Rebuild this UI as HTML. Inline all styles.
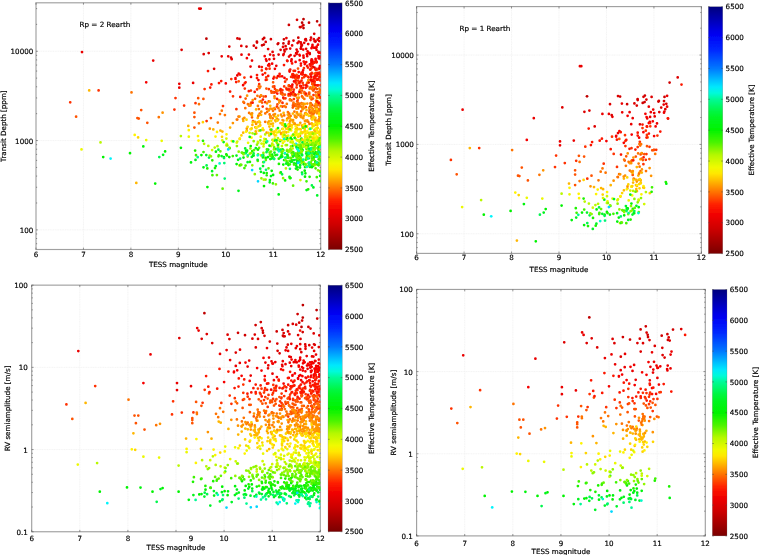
<!DOCTYPE html><html><head><meta charset="utf-8"><title>TESS transit depth and RV semiamplitude</title>
<style>html,body{margin:0;padding:0;background:#fff}svg{display:block}text{stroke:#000;stroke-width:0.18px;font-family:"DejaVu Sans","Liberation Sans",sans-serif;font-size:7.15px;fill:#000}</style></head><body>
<svg width="760" height="555" viewBox="0 0 760 555">
<defs><linearGradient id="jet" x1="0" y1="0" x2="0" y2="1"><stop offset="0.0000" stop-color="#00007d"/><stop offset="0.0250" stop-color="#000098"/><stop offset="0.0500" stop-color="#0000b2"/><stop offset="0.0750" stop-color="#0000cd"/><stop offset="0.1000" stop-color="#0000e8"/><stop offset="0.1250" stop-color="#0008f7"/><stop offset="0.1500" stop-color="#0018fb"/><stop offset="0.1750" stop-color="#0028ff"/><stop offset="0.2000" stop-color="#0043ff"/><stop offset="0.2250" stop-color="#005dff"/><stop offset="0.2500" stop-color="#0078ff"/><stop offset="0.2750" stop-color="#009eff"/><stop offset="0.3000" stop-color="#00c4ff"/><stop offset="0.3250" stop-color="#00e8fc"/><stop offset="0.3500" stop-color="#00fad9"/><stop offset="0.3750" stop-color="#00fa96"/><stop offset="0.4000" stop-color="#00f86b"/><stop offset="0.4250" stop-color="#00f640"/><stop offset="0.4500" stop-color="#00f522"/><stop offset="0.4750" stop-color="#00f411"/><stop offset="0.5000" stop-color="#00f300"/><stop offset="0.5250" stop-color="#26f400"/><stop offset="0.5500" stop-color="#4bf400"/><stop offset="0.5750" stop-color="#80f600"/><stop offset="0.6000" stop-color="#b4f800"/><stop offset="0.6250" stop-color="#d2f900"/><stop offset="0.6500" stop-color="#f0fa00"/><stop offset="0.6750" stop-color="#ffe800"/><stop offset="0.7000" stop-color="#ffc300"/><stop offset="0.7250" stop-color="#ff9b00"/><stop offset="0.7500" stop-color="#ff7300"/><stop offset="0.7750" stop-color="#ff4b00"/><stop offset="0.8000" stop-color="#ff2300"/><stop offset="0.8250" stop-color="#f80c00"/><stop offset="0.8500" stop-color="#ed0000"/><stop offset="0.8750" stop-color="#dd0000"/><stop offset="0.9000" stop-color="#cd0000"/><stop offset="0.9250" stop-color="#b80000"/><stop offset="0.9500" stop-color="#a40000"/><stop offset="0.9750" stop-color="#8f0000"/><stop offset="1.0000" stop-color="#7a0000"/></linearGradient><filter id="soft" x="0" y="0" width="760" height="555" filterUnits="userSpaceOnUse"><feGaussianBlur stdDeviation="0.35"/></filter></defs>
<rect width="760" height="555" fill="#fff"/>
<g filter="url(#soft)">
<g>
<clipPath id="c1"><rect x="36.00" y="2.80" width="284.70" height="246.70"/></clipPath>
<path d="M83.45 2.80V249.50M130.90 2.80V249.50M178.35 2.80V249.50M225.80 2.80V249.50M273.25 2.80V249.50M36.00 229.88H320.70M36.00 140.56H320.70M36.00 51.25H320.70" stroke="#efefef" stroke-width="0.7" stroke-dasharray="1.2 0.5" fill="none"/><rect x="36.00" y="2.80" width="284.70" height="246.70" fill="none" stroke="#a0a0a0" stroke-width="1.15"/><path d="M36.00 249.50v-1.90M36.00 2.80v1.90M83.45 249.50v-1.90M83.45 2.80v1.90M130.90 249.50v-1.90M130.90 2.80v1.90M178.35 249.50v-1.90M178.35 2.80v1.90M225.80 249.50v-1.90M225.80 2.80v1.90M273.25 249.50v-1.90M273.25 2.80v1.90M320.70 249.50v-1.90M320.70 2.80v1.90M36.00 243.71h1.15M320.70 243.71h-1.15M36.00 238.53h1.15M320.70 238.53h-1.15M36.00 233.96h1.15M320.70 233.96h-1.15M36.00 229.88h1.90M320.70 229.88h-1.90M36.00 202.99h1.15M320.70 202.99h-1.15M36.00 187.26h1.15M320.70 187.26h-1.15M36.00 176.10h1.15M320.70 176.10h-1.15M36.00 167.45h1.15M320.70 167.45h-1.15M36.00 160.38h1.15M320.70 160.38h-1.15M36.00 154.40h1.15M320.70 154.40h-1.15M36.00 149.22h1.15M320.70 149.22h-1.15M36.00 144.65h1.15M320.70 144.65h-1.15M36.00 140.56h1.90M320.70 140.56h-1.90M36.00 113.67h1.15M320.70 113.67h-1.15M36.00 97.95h1.15M320.70 97.95h-1.15M36.00 86.79h1.15M320.70 86.79h-1.15M36.00 78.13h1.15M320.70 78.13h-1.15M36.00 71.06h1.15M320.70 71.06h-1.15M36.00 65.08h1.15M320.70 65.08h-1.15M36.00 59.90h1.15M320.70 59.90h-1.15M36.00 55.33h1.15M320.70 55.33h-1.15M36.00 51.25h1.90M320.70 51.25h-1.90M36.00 24.36h1.15M320.70 24.36h-1.15M36.00 8.63h1.15M320.70 8.63h-1.15" stroke="#444" stroke-width="0.55" fill="none"/><text x="36.00" y="256.60" text-anchor="middle">6</text><text x="83.45" y="256.60" text-anchor="middle">7</text><text x="130.90" y="256.60" text-anchor="middle">8</text><text x="178.35" y="256.60" text-anchor="middle">9</text><text x="225.80" y="256.60" text-anchor="middle">10</text><text x="273.25" y="256.60" text-anchor="middle">11</text><text x="320.70" y="256.60" text-anchor="middle">12</text><text x="33.30" y="232.88" text-anchor="end">100</text><text x="33.30" y="143.56" text-anchor="end">1000</text><text x="33.30" y="54.25" text-anchor="end">10000</text><text x="178.35" y="267.10" text-anchor="middle">TESS magnitude</text><text transform="translate(5.60 126.15) rotate(-90)" text-anchor="middle">Transit Depth [ppm]</text><rect x="328.20" y="2.95" width="13.90" height="246.65" fill="url(#jet)" stroke="#777" stroke-width="0.25"/><text x="344.90" y="252.30">2500</text><text x="344.90" y="221.47">3000</text><text x="344.90" y="190.64">3500</text><text x="344.90" y="159.81">4000</text><text x="344.90" y="128.97">4500</text><text x="344.90" y="98.14">5000</text><text x="344.90" y="67.31">5500</text><text x="344.90" y="36.48">6000</text><text x="344.90" y="5.65">6500</text><path d="M342.10 249.60h-1.6M328.20 249.60h1.6M342.10 218.77h-1.6M328.20 218.77h1.6M342.10 187.94h-1.6M328.20 187.94h1.6M342.10 157.11h-1.6M328.20 157.11h1.6M342.10 126.27h-1.6M328.20 126.27h1.6M342.10 95.44h-1.6M328.20 95.44h1.6M342.10 64.61h-1.6M328.20 64.61h1.6M342.10 33.78h-1.6M328.20 33.78h1.6M342.10 2.95h-1.6M328.20 2.95h1.6" stroke="#444" stroke-width="0.5" fill="none"/><text transform="translate(374.00 126.15) rotate(-90)" text-anchor="middle">Effective Temperature [K]</text>
<g clip-path="url(#c1)"><g fill="none" stroke-width="2.75" stroke-linecap="round"><path stroke="#ea0000" d="M82.0 52.1h0M153.2 60.6h0M179.3 83.8h0M179.3 87.7h0M193.1 82.9h0M199.2 8.6h0M200.7 8.6h0M319.2 68.8h0M313.9 47.7h0M283.7 54.0h0M300.8 42.3h0M296.7 54.1h0M248.9 54.6h0M276.3 65.8h0M318.6 58.2h0M306.1 40.4h0M309.7 53.0h0M252.0 60.6h0M269.1 64.2h0M305.2 39.7h0M316.8 68.9h0M316.5 49.8h0M304.2 42.8h0M303.6 57.7h0M268.1 49.1h0M294.6 55.8h0M286.4 38.1h0M274.0 58.8h0M307.2 56.2h0M221.7 56.3h0M292.1 45.4h0M314.6 41.3h0M292.0 93.9h0M297.6 51.5h0M300.9 43.6h0M270.1 54.5h0M266.5 60.8h0M319.0 38.0h0M312.5 44.9h0M306.1 48.8h0M308.2 44.1h0M283.0 46.9h0M287.4 61.0h0M291.6 59.4h0M283.3 55.1h0M250.5 66.6h0M290.6 55.0h0M289.0 56.6h0M241.3 45.9h0M272.6 51.9h0M231.7 59.2h0M290.2 48.5h0M237.3 75.4h0M269.4 59.3h0M228.2 56.3h0M286.4 49.1h0M307.6 51.3h0M297.6 43.1h0M241.5 54.7h0M316.0 48.0h0M290.2 69.5h0M312.7 62.3h0M315.5 41.6h0M312.9 66.9h0M296.1 53.2h0M273.5 55.4h0M313.8 39.2h0M318.4 51.9h0M300.9 48.5h0M296.6 49.5h0M310.5 40.0h0"/><path stroke="#ff3000" d="M70.2 102.3h0M98.6 90.4h0M174.4 109.5h0M175.5 98.0h0M184.1 105.5h0M195.5 103.2h0M276.9 106.6h0M279.8 76.4h0M302.7 82.9h0M311.8 81.7h0M282.2 93.0h0M295.7 82.8h0M233.0 96.3h0M282.5 106.5h0M204.6 89.1h0M293.9 99.1h0M206.6 121.1h0M310.4 74.2h0M320.3 80.4h0M306.2 75.7h0M293.6 70.8h0M313.0 113.3h0M282.4 102.8h0M314.7 81.4h0M290.3 95.4h0M282.4 90.2h0M314.4 81.9h0M289.5 70.3h0M311.8 72.8h0M262.7 106.5h0M310.6 69.4h0M320.4 104.5h0M244.7 83.3h0M275.5 92.2h0M303.5 85.1h0M265.7 96.4h0M319.4 72.6h0M304.2 77.0h0M311.7 68.0h0M319.8 97.1h0M298.2 80.7h0M257.1 89.4h0M295.4 78.5h0M274.1 92.5h0M286.7 79.3h0M307.0 83.4h0M293.9 76.6h0M290.9 92.7h0M249.1 105.5h0M280.2 90.3h0M296.8 84.8h0M316.3 75.3h0M274.1 76.9h0M320.5 90.2h0M318.3 85.3h0M313.5 84.0h0M303.9 68.2h0M266.2 77.3h0M274.3 86.3h0M320.2 75.1h0M261.1 95.7h0M231.3 79.1h0M265.2 102.2h0M265.1 73.0h0M300.8 88.1h0M291.1 76.9h0M276.7 77.9h0M289.0 85.5h0M317.6 79.7h0M284.2 86.4h0M281.1 92.7h0M269.6 68.7h0M297.5 100.5h0M285.5 98.3h0M314.5 82.5h0M250.9 90.6h0M296.6 87.4h0M317.5 85.3h0M302.3 78.0h0M268.9 89.2h0M309.0 93.4h0M316.0 72.9h0M312.9 86.7h0M273.4 92.2h0M266.4 69.1h0M244.8 88.5h0M282.5 102.9h0M259.2 84.2h0M314.2 89.3h0M261.8 70.4h0M285.1 81.7h0M310.1 106.6h0M317.7 108.9h0M307.3 86.4h0M244.4 77.6h0M292.3 74.4h0M282.6 94.1h0M315.5 78.3h0M313.5 95.1h0M274.9 88.8h0M223.0 106.1h0M318.2 92.3h0M236.4 109.2h0M293.8 89.7h0"/><path stroke="#ff5200" d="M76.1 116.7h0M141.2 110.0h0M137.4 118.1h0M138.8 118.5h0M147.3 122.8h0M194.4 112.7h0M194.4 117.0h0M194.4 127.5h0M299.9 90.7h0M288.3 89.9h0M198.2 98.2h0M312.9 98.5h0M305.7 95.0h0M255.1 98.8h0M310.9 79.3h0M266.4 88.6h0M319.5 105.0h0M296.5 78.0h0M312.2 84.1h0M292.9 105.4h0M315.9 95.6h0M259.9 96.8h0M316.9 89.0h0M291.8 86.0h0M252.0 117.3h0M296.7 74.9h0M275.0 109.0h0M315.7 92.3h0M288.8 86.3h0M311.0 104.3h0M273.1 82.3h0M290.0 99.3h0M298.5 83.2h0M273.0 86.7h0M266.7 108.8h0M294.8 76.8h0M297.1 101.6h0M259.7 113.7h0M238.7 81.3h0M312.6 79.8h0M271.2 91.2h0M310.9 103.6h0M286.3 88.1h0M309.2 92.5h0M276.7 90.4h0M280.3 100.8h0M291.4 89.2h0M271.5 92.7h0M251.2 102.7h0M298.0 104.4h0M301.5 103.0h0M288.5 95.5h0M291.5 100.4h0M266.9 79.7h0M294.7 105.9h0M320.6 75.0h0M284.9 94.7h0M314.0 111.4h0M277.4 104.4h0M299.4 104.0h0M283.8 98.5h0M294.1 94.2h0M295.9 95.0h0M298.0 68.6h0M304.4 92.2h0M320.1 76.8h0M309.2 94.1h0M312.4 112.4h0M210.9 118.1h0M317.5 69.4h0M313.2 90.6h0M273.0 92.3h0M276.1 91.0h0M302.0 96.4h0M263.6 96.5h0M301.2 111.3h0M316.9 101.9h0M314.9 85.0h0M298.0 98.6h0M308.5 80.1h0M302.0 90.5h0M280.9 93.6h0M288.8 85.3h0M244.1 102.8h0M320.0 90.4h0M319.3 93.2h0M305.9 107.2h0M302.5 74.3h0M317.9 97.2h0M309.6 110.1h0M293.4 95.2h0M292.8 107.6h0M312.1 104.9h0M319.7 105.4h0M262.1 102.5h0M317.9 111.6h0M203.4 98.9h0M307.7 76.6h0M296.2 78.7h0M298.4 107.1h0M309.8 88.4h0M315.6 87.8h0M298.6 77.7h0M268.7 101.4h0M250.7 103.7h0M245.6 98.6h0M311.5 99.4h0M314.3 77.6h0M314.5 73.6h0M293.5 103.8h0"/><path stroke="#ffb600" d="M89.2 90.4h0M136.3 182.9h0M188.3 125.9h0M256.3 133.6h0M291.7 125.5h0M289.0 124.1h0M319.9 131.5h0M256.3 128.2h0M255.7 131.4h0M256.1 109.4h0M262.6 129.8h0M283.6 112.9h0M251.9 115.3h0M306.6 114.5h0M317.0 124.6h0M305.1 103.9h0M282.4 128.9h0M270.3 129.5h0M252.4 124.9h0M306.8 126.7h0M278.1 115.6h0M294.1 124.1h0M275.2 120.4h0M281.0 134.0h0M314.8 130.2h0M297.0 128.0h0M272.9 123.6h0M269.0 121.3h0M243.2 132.7h0M296.8 113.3h0M319.3 112.1h0M317.7 132.8h0M311.1 111.3h0M304.8 123.8h0M270.9 123.9h0M260.1 125.0h0M293.6 122.7h0M220.4 130.5h0M308.3 132.9h0M319.3 98.1h0M297.9 125.0h0M309.1 108.1h0M289.6 123.9h0M315.5 117.8h0M300.5 113.6h0M292.9 122.0h0M295.8 129.0h0M291.3 125.9h0M316.9 130.2h0M251.1 129.1h0M286.3 132.4h0M222.4 131.6h0M257.7 117.9h0M269.4 126.5h0M311.8 123.4h0M307.3 137.1h0M243.3 120.9h0M307.4 114.2h0M296.3 125.3h0M246.8 130.7h0M288.2 128.2h0M315.0 132.3h0M259.6 101.7h0M230.1 127.5h0M297.6 114.3h0M249.2 105.1h0M288.4 124.8h0M275.6 121.3h0M257.8 122.2h0M316.7 121.2h0M319.6 122.5h0M301.2 114.5h0M291.4 119.8h0M239.7 138.9h0M317.5 128.1h0M280.5 123.2h0M258.8 121.9h0M288.7 126.7h0M258.8 114.9h0M287.8 114.7h0M306.5 110.2h0M305.8 132.8h0M314.4 130.2h0M213.3 129.4h0M318.3 111.3h0M290.9 126.1h0M282.2 123.2h0M303.3 117.9h0M302.6 127.2h0M255.0 121.9h0M261.1 114.8h0M315.5 107.7h0M312.1 124.2h0M289.7 117.9h0M270.3 105.8h0M279.5 131.7h0M315.6 121.9h0M310.4 104.4h0M292.9 113.5h0M316.3 124.9h0M260.0 122.5h0"/><path stroke="#ff7300" d="M131.5 92.4h0M158.8 117.2h0M287.2 118.8h0M273.0 110.8h0M249.1 112.9h0M300.6 116.4h0M314.4 111.6h0M279.7 110.7h0M301.3 93.0h0M265.3 113.4h0M268.8 109.5h0M315.8 110.3h0M310.3 113.2h0M257.9 105.9h0M318.1 93.0h0M269.6 114.4h0M302.2 73.3h0M314.9 75.9h0M298.4 103.1h0M221.8 110.7h0M300.1 90.2h0M277.8 90.7h0M257.4 95.8h0M316.3 104.1h0M310.5 103.2h0M317.0 105.6h0M245.3 108.2h0M293.6 93.4h0M236.8 119.5h0M260.4 86.6h0M316.7 108.2h0M299.5 106.0h0M301.0 106.6h0M265.2 121.8h0M295.3 95.9h0M296.4 116.9h0M313.5 86.5h0M320.3 97.0h0M267.2 111.8h0M312.6 109.2h0M306.1 94.7h0M238.5 116.6h0M314.4 106.1h0M307.3 82.5h0M317.8 92.8h0M317.9 95.9h0M312.2 112.3h0M284.2 115.4h0M304.3 98.9h0M303.0 97.7h0M220.0 114.1h0M284.3 106.1h0M316.3 110.2h0M302.6 108.5h0M237.3 119.6h0M311.9 89.0h0M258.9 109.1h0M290.6 115.9h0M319.4 110.0h0M310.4 87.4h0M301.8 106.8h0M287.9 112.1h0M298.1 108.4h0M319.4 88.6h0M295.7 104.1h0M319.4 105.2h0M289.9 100.2h0M259.5 88.0h0M289.3 90.5h0M319.2 109.9h0M273.5 114.8h0M258.3 116.1h0M304.5 93.5h0M274.5 96.3h0M309.5 123.9h0M217.8 122.6h0M199.0 104.2h0M296.5 105.9h0M243.4 101.9h0M270.3 116.2h0M309.3 111.8h0M320.2 109.7h0M272.7 118.3h0M290.7 90.2h0M278.4 108.2h0M308.2 121.8h0M282.6 94.8h0M320.2 92.6h0M286.8 103.9h0M313.8 113.6h0M307.3 95.7h0M293.5 102.5h0M317.3 101.7h0M224.9 115.1h0M293.8 75.2h0M285.8 107.0h0M312.4 115.2h0M316.9 97.7h0M289.2 113.5h0M247.9 104.2h0M319.2 102.6h0M320.0 90.7h0M311.4 97.2h0M319.2 109.0h0M198.9 123.3h0M260.9 101.0h0M253.0 121.1h0M258.7 86.4h0M294.4 111.6h0M312.4 112.5h0"/><path stroke="#f60400" d="M146.2 82.3h0M299.8 55.6h0M303.2 49.6h0M277.9 76.2h0M246.9 58.2h0M282.1 76.3h0M289.6 71.5h0M311.4 62.3h0M319.7 67.2h0M268.2 65.4h0M273.4 78.5h0M315.6 59.7h0M315.0 76.3h0M235.5 78.2h0M303.4 55.7h0M301.0 86.0h0M264.7 56.2h0M291.3 61.2h0M306.2 62.0h0M292.4 84.7h0M320.2 57.0h0M319.3 68.4h0M311.2 76.8h0M299.4 92.0h0M319.9 56.8h0M293.3 91.8h0M315.6 61.9h0M304.8 64.0h0M262.7 74.6h0M301.7 45.4h0M311.5 48.2h0M295.6 61.9h0M314.4 78.3h0M258.4 80.1h0M312.2 46.8h0M274.9 68.8h0M316.6 61.9h0M318.9 52.7h0M284.5 77.9h0M308.6 52.8h0M251.0 76.9h0M316.6 46.9h0M315.6 58.8h0M315.7 75.7h0M312.5 64.2h0M313.2 81.2h0M302.6 72.4h0M319.4 58.4h0M311.5 59.5h0M294.0 81.4h0M235.5 78.9h0M318.5 56.2h0M318.0 44.7h0M243.1 85.2h0M309.8 64.4h0M316.5 46.8h0M299.7 60.2h0M311.3 60.8h0M272.1 63.7h0M238.7 73.6h0M306.8 54.0h0M314.7 62.3h0M306.0 85.4h0M293.1 75.7h0M298.8 76.1h0M312.3 60.4h0M310.8 80.2h0M266.0 59.3h0M303.1 70.3h0M303.7 61.6h0M299.4 54.8h0M320.7 52.9h0M311.7 59.3h0M300.9 63.6h0M319.9 66.0h0M298.7 72.0h0M225.8 83.4h0"/><path stroke="#ff9400" d="M162.6 112.7h0M315.6 104.2h0M283.4 120.5h0M266.6 132.6h0M289.8 121.5h0M274.2 115.8h0M300.0 136.1h0M294.9 123.6h0M209.8 128.7h0M316.0 100.6h0M319.0 119.1h0M268.1 122.7h0M320.3 116.7h0M316.4 122.0h0M298.8 97.6h0M288.8 129.2h0M255.3 127.3h0M270.2 117.5h0M316.3 102.2h0M310.2 97.8h0M303.0 118.2h0M277.0 118.6h0M310.5 115.9h0M313.1 109.1h0M282.6 120.0h0M319.3 120.9h0M297.2 97.8h0M290.2 120.7h0M303.5 126.9h0M294.8 115.6h0M303.3 103.5h0M313.0 117.8h0M303.5 104.8h0M250.7 114.1h0M289.5 125.5h0M312.8 110.5h0M270.3 108.5h0M243.0 118.9h0M312.9 117.3h0M311.6 118.4h0M275.0 114.1h0M261.3 111.7h0M278.2 119.5h0M288.9 116.4h0M270.4 118.1h0M302.6 109.4h0M303.1 107.7h0M314.3 125.3h0M268.9 110.4h0M274.4 108.0h0M316.4 104.5h0M293.1 120.0h0M314.7 119.8h0M279.3 102.5h0M307.3 120.3h0M308.3 80.4h0M252.1 113.4h0M313.7 86.6h0M247.1 95.7h0M316.6 110.2h0M316.9 120.6h0M313.2 111.6h0M320.6 107.2h0M316.2 95.7h0M244.4 117.9h0M267.0 103.3h0M261.0 95.4h0M269.8 101.6h0M281.2 133.1h0M298.4 94.3h0M319.3 116.7h0M296.1 117.6h0M271.0 116.7h0M250.5 105.6h0M317.4 101.0h0M302.2 125.6h0M303.7 115.8h0M302.4 125.3h0M295.1 116.9h0M318.2 121.1h0M305.7 113.2h0M316.1 112.3h0M316.9 113.3h0M304.3 108.1h0M281.9 116.4h0M280.9 106.2h0M252.7 100.0h0M296.3 108.6h0M301.3 117.2h0M274.6 98.1h0M304.9 120.8h0M310.0 96.6h0M310.2 106.3h0M246.8 128.6h0M281.0 114.7h0M305.1 113.4h0M306.5 121.2h0M288.0 118.1h0M232.9 123.1h0M278.7 100.1h0M300.3 122.8h0M272.1 108.9h0M316.1 112.3h0M318.1 113.0h0M311.7 107.6h0M239.5 116.6h0M307.3 103.5h0M313.0 116.1h0M256.1 123.9h0M318.2 95.3h0M318.2 111.2h0M305.4 120.7h0M303.2 106.9h0M309.4 107.8h0M297.0 112.4h0M301.6 103.8h0M298.6 114.9h0"/><path stroke="#dd0000" d="M181.6 49.8h0M278.6 54.5h0M278.3 43.3h0M284.6 51.5h0M285.6 46.2h0M314.5 67.5h0M208.7 53.0h0M257.0 42.5h0M262.9 39.2h0M319.2 41.0h0M288.9 41.7h0M284.4 49.9h0M265.7 41.9h0M256.1 47.8h0M293.5 40.6h0M314.2 33.8h0M302.0 44.9h0M300.9 48.5h0M270.9 39.2h0M315.3 40.9h0M319.7 25.2h0M288.6 43.7h0M231.0 57.6h0M237.4 38.4h0M259.2 66.7h0M309.8 54.0h0M305.8 39.1h0M298.8 41.7h0M301.2 46.7h0M311.0 37.7h0M280.6 49.8h0M214.1 68.8h0M253.8 45.7h0M229.3 46.6h0M203.7 54.2h0M297.0 19.8h0"/><path stroke="#ebf900" d="M81.5 149.4h0M146.2 140.1h0M161.7 140.8h0M188.8 136.7h0M320.4 141.5h0M305.1 136.6h0M291.8 135.9h0M236.7 142.7h0M316.5 140.6h0M315.7 133.7h0M306.6 139.2h0M289.4 139.1h0M317.1 138.3h0M263.8 141.4h0M288.2 135.7h0M304.9 140.9h0M248.1 142.8h0M283.0 134.3h0M296.5 132.1h0M281.9 140.3h0M231.8 141.0h0M319.4 134.5h0M312.0 128.1h0M315.0 138.1h0M264.3 138.8h0M226.8 143.8h0M279.6 130.8h0M301.4 139.5h0M282.8 143.0h0M295.7 130.1h0M274.8 138.6h0M284.1 133.6h0M309.1 139.1h0M296.4 134.3h0M314.3 140.1h0M309.8 136.6h0M308.9 129.0h0M298.7 134.2h0M294.7 134.9h0M306.9 136.0h0M311.1 140.8h0M312.4 140.1h0M320.4 141.2h0M288.3 131.9h0M310.1 134.0h0M305.4 140.3h0M314.7 138.7h0M315.7 128.7h0M306.9 143.9h0"/><path stroke="#b9f800" d="M100.5 142.4h0M180.9 136.1h0M307.0 144.1h0M320.6 145.2h0M252.5 133.3h0M204.1 143.8h0M314.8 149.2h0M305.9 144.0h0M278.4 144.3h0M302.8 145.6h0M319.1 150.8h0M303.8 162.4h0M318.4 146.7h0M263.8 179.7h0M320.6 146.5h0M291.4 141.4h0M284.8 139.1h0M258.1 142.7h0M319.5 163.4h0M290.5 150.8h0M295.0 154.0h0M257.5 149.4h0M313.0 143.0h0M318.9 149.8h0M309.0 144.2h0M315.8 148.1h0M239.4 165.4h0M290.9 150.2h0M319.3 147.7h0M309.5 136.5h0M281.9 146.0h0M287.1 149.9h0M306.1 146.7h0M295.0 144.0h0M217.5 146.2h0M278.0 146.9h0M208.3 145.9h0M277.9 138.0h0M311.4 148.7h0M317.7 141.1h0M308.1 139.8h0M304.0 146.4h0M265.2 134.4h0M298.5 152.2h0M310.4 152.7h0M299.5 142.1h0M214.7 147.5h0M304.2 140.6h0M305.9 147.6h0M295.8 138.8h0M290.6 142.2h0M285.7 145.2h0M319.6 144.4h0M285.9 168.4h0M281.2 149.8h0M287.8 140.5h0M292.8 142.0h0M278.0 146.3h0M261.0 155.4h0M280.1 172.9h0M272.4 139.9h0M312.4 151.5h0M320.4 141.3h0M271.1 146.0h0M272.2 143.7h0M306.6 166.8h0M311.1 144.5h0"/><path stroke="#00f300" d="M103.2 157.0h0M130.0 153.2h0M155.2 183.6h0M165.1 151.4h0M180.9 147.8h0M270.3 155.6h0M226.3 154.3h0M317.0 140.3h0M302.6 150.0h0M250.7 146.0h0M264.0 186.1h0M305.4 173.3h0M313.5 158.3h0M247.1 150.7h0M301.5 138.7h0M271.7 170.8h0M307.7 155.5h0M246.1 150.7h0M291.9 161.4h0M299.2 151.4h0M285.1 180.4h0M207.4 187.0h0M288.4 165.0h0M300.1 157.6h0M229.3 157.0h0M294.0 155.1h0M304.7 170.7h0M201.4 155.0h0M311.8 156.3h0M305.0 176.7h0M265.6 157.9h0M272.1 154.7h0M313.9 164.9h0M309.1 158.1h0M290.7 137.9h0M311.2 165.1h0M297.0 148.1h0M314.6 156.7h0M305.0 167.1h0M267.9 157.2h0M309.7 166.0h0M263.2 155.2h0M292.0 139.5h0M253.2 155.3h0M315.3 163.4h0M243.5 157.6h0M308.6 154.0h0M223.9 157.0h0M311.9 167.2h0M316.3 153.4h0M283.3 164.6h0"/><path stroke="#00f4fb" d="M110.6 158.6h0M296.1 143.8h0M280.6 157.8h0"/><path stroke="#fff400" d="M134.7 134.9h0M188.8 130.2h0M313.5 126.0h0M277.3 140.2h0M292.2 141.2h0M198.0 136.1h0M304.5 132.3h0M256.0 127.5h0M305.5 136.1h0M274.9 131.3h0M262.8 128.3h0M295.0 136.6h0M315.5 139.4h0M273.3 140.8h0M308.4 140.3h0M310.1 132.7h0M251.5 137.7h0M217.0 131.9h0M317.7 131.6h0M316.5 128.5h0M250.5 129.0h0M276.1 135.3h0M320.5 133.9h0M319.2 114.8h0M307.1 131.3h0M300.8 132.3h0M274.3 132.6h0M282.9 137.0h0M226.5 134.3h0M316.6 129.6h0M317.0 123.6h0M305.0 136.5h0M288.2 124.8h0M293.4 134.7h0M314.0 124.3h0M313.2 134.2h0M310.5 135.7h0M316.4 136.2h0M310.0 128.6h0M292.0 127.6h0M198.5 140.5h0M308.6 135.5h0M320.2 129.5h0M319.2 139.2h0M296.1 134.8h0M282.8 136.0h0M305.9 126.1h0M303.5 125.0h0M260.7 136.7h0M310.3 133.8h0M295.7 126.4h0M304.7 139.3h0M313.7 136.0h0M318.1 132.4h0M306.5 132.5h0M283.1 129.0h0M239.9 138.5h0M276.9 132.6h0M291.2 130.4h0M284.4 141.3h0M319.7 123.4h0M304.3 131.9h0M317.7 138.0h0M298.6 135.8h0M246.1 131.7h0M215.5 136.5h0"/><path stroke="#ffd500" d="M138.1 137.4h0M260.1 125.7h0M319.9 135.1h0M316.7 109.0h0M276.5 129.6h0M241.4 135.4h0M284.2 126.2h0M312.2 132.4h0M286.3 128.8h0M312.2 119.1h0M247.6 126.8h0M319.2 113.4h0M301.8 132.0h0M305.4 134.5h0M271.5 131.7h0M299.5 129.0h0M251.7 128.4h0M259.3 121.6h0M273.9 131.8h0M288.3 129.1h0M317.2 125.1h0M311.7 133.5h0M305.7 137.0h0M313.4 138.3h0M307.1 126.1h0M306.1 114.3h0M263.5 130.1h0M295.0 132.3h0M277.4 120.7h0M319.5 131.9h0M272.8 126.0h0M274.8 135.4h0M282.8 123.3h0M258.8 130.7h0M269.2 135.6h0M283.0 132.3h0M268.6 123.9h0M308.8 115.8h0M297.0 128.9h0M317.7 127.8h0M282.3 124.8h0M302.2 133.2h0M268.3 133.0h0M318.2 137.7h0M286.2 136.2h0M268.5 132.8h0M290.3 129.1h0M299.3 124.8h0M312.1 119.5h0M305.8 126.0h0M298.2 136.8h0M316.5 122.6h0M286.8 120.3h0M312.7 125.9h0M312.0 137.6h0M252.7 122.3h0M304.8 130.9h0M302.2 139.6h0M275.8 117.1h0M313.5 116.6h0M297.3 129.6h0M302.6 132.7h0M271.4 133.6h0M311.5 132.6h0M304.8 129.0h0M222.0 136.8h0M291.6 125.0h0M246.5 119.7h0M313.8 117.6h0M258.5 126.4h0M202.9 122.2h0M273.9 133.8h0M300.7 129.4h0M285.1 126.8h0M284.8 131.7h0M313.1 132.6h0M271.3 120.8h0"/><path stroke="#00f40e" d="M143.3 146.4h0M191.0 162.4h0M268.2 149.7h0M280.6 156.9h0M290.5 178.0h0M317.7 162.7h0M253.6 155.5h0M298.7 148.1h0M305.7 126.4h0M269.5 145.7h0M296.3 163.6h0M297.7 156.8h0M302.2 147.5h0M314.5 164.2h0M294.2 154.2h0M278.7 194.4h0M299.3 158.9h0M229.7 148.2h0M273.1 174.9h0M299.1 155.9h0M287.6 155.4h0M278.0 128.0h0M287.2 154.7h0M272.5 156.3h0M318.4 151.4h0M313.5 157.0h0M307.0 155.8h0M238.1 159.8h0M263.8 172.9h0M299.2 158.6h0M303.6 164.3h0M289.5 176.8h0M215.9 151.7h0M314.2 153.9h0M315.6 152.1h0M297.7 160.0h0M297.6 153.8h0M258.0 149.5h0M288.5 157.7h0M300.9 161.3h0M302.4 160.7h0M203.5 167.3h0M314.8 142.2h0M292.6 145.8h0M310.0 166.9h0M236.6 164.0h0M315.3 161.4h0M296.4 159.7h0M285.6 126.1h0"/><path stroke="#00f74e" d="M159.3 157.0h0M282.1 174.3h0M206.6 165.4h0M311.9 185.4h0M277.1 154.8h0M260.2 168.7h0M307.2 153.2h0M218.4 149.7h0M320.0 146.1h0M302.2 155.2h0M253.6 153.4h0M266.5 152.2h0M209.0 157.6h0M286.9 157.4h0M267.2 151.0h0M294.9 153.8h0M224.0 158.1h0"/><path stroke="#00f41c" d="M163.1 154.8h0M195.5 159.9h0M309.8 150.1h0M300.2 165.2h0M271.0 176.1h0M310.2 153.1h0M309.4 162.9h0M320.1 175.9h0M236.5 155.5h0M320.4 172.0h0M287.2 138.1h0M292.6 154.6h0M277.9 145.1h0M316.9 154.4h0M295.9 168.6h0M275.0 140.6h0M249.7 136.9h0M260.9 171.8h0M313.0 165.9h0M238.5 190.8h0M302.0 172.7h0M313.4 187.4h0M319.8 152.6h0M294.1 163.3h0M300.0 167.6h0M306.3 146.7h0M280.0 141.0h0M296.2 165.7h0M269.7 182.3h0M269.9 180.1h0M284.1 160.1h0M306.6 190.1h0M297.4 167.1h0M240.3 165.2h0M282.5 149.3h0M291.6 161.5h0M307.1 140.1h0M274.5 152.6h0M280.9 172.3h0M282.3 156.7h0M299.1 152.6h0M294.6 137.8h0M223.6 142.0h0M310.7 141.0h0M297.2 162.0h0"/><path stroke="#1ff300" d="M195.1 150.5h0M316.6 163.7h0M292.7 154.7h0M203.0 140.8h0M252.2 151.2h0M281.5 155.2h0M297.6 169.5h0M249.9 161.9h0M266.7 173.0h0M318.6 159.3h0M212.3 160.3h0M308.2 189.3h0M280.2 149.5h0M305.8 159.7h0M263.2 156.4h0M291.7 159.9h0M272.3 156.6h0M278.9 163.9h0M262.9 157.4h0M274.0 158.6h0M287.7 163.2h0M275.4 155.2h0M289.8 178.1h0M266.7 175.2h0M300.0 140.2h0M308.3 145.7h0M311.0 141.7h0M278.8 158.7h0M207.3 168.4h0M286.2 138.8h0M316.7 156.4h0M275.9 149.2h0M311.7 148.0h0M270.3 159.0h0M318.6 165.3h0M226.9 155.4h0M215.0 168.0h0M309.6 176.8h0M283.3 150.2h0M316.7 142.1h0M266.2 142.4h0M314.4 149.3h0M270.9 134.1h0M285.1 124.3h0"/><path stroke="#3ff400" d="M245.6 165.5h0M294.0 164.6h0M317.0 153.0h0M196.0 155.2h0M287.7 157.6h0M320.3 155.8h0M308.2 155.9h0M266.9 149.4h0M307.2 143.0h0M282.0 153.3h0M312.9 151.9h0M319.4 144.9h0M260.4 130.4h0M306.6 145.3h0M302.2 162.1h0M308.6 163.5h0M306.5 181.3h0M318.5 163.5h0M319.8 158.9h0M317.5 164.7h0M306.5 157.4h0M315.2 156.5h0M242.8 153.2h0M244.4 168.1h0M306.5 148.9h0M319.5 156.5h0M212.4 175.2h0M232.8 156.1h0M203.5 152.0h0M316.8 177.2h0M218.8 155.3h0M244.4 153.0h0M317.7 153.0h0M295.7 156.1h0M320.1 181.0h0M300.0 161.3h0M242.4 152.8h0M307.4 146.5h0M272.9 183.4h0M293.2 152.1h0M298.1 155.1h0M312.1 158.3h0M300.5 144.5h0M286.6 161.2h0M289.9 164.3h0M302.0 151.3h0M271.3 156.0h0M218.5 156.3h0M315.6 168.3h0M287.0 163.5h0M311.4 149.3h0M291.6 152.9h0M317.8 154.2h0M271.4 129.7h0"/><path stroke="#d2f900" d="M313.4 141.8h0M226.2 145.3h0M292.7 148.4h0M302.3 146.8h0M279.9 139.9h0M318.6 144.2h0M292.5 142.7h0M299.3 140.4h0M301.6 144.7h0M257.9 141.9h0M304.9 141.7h0M285.1 138.0h0M306.3 147.4h0M314.4 140.8h0M237.3 141.6h0M276.3 141.7h0M294.6 144.9h0M261.5 143.5h0M249.6 132.8h0M300.4 180.1h0M311.5 144.7h0M314.1 141.5h0M317.5 140.1h0M314.0 142.3h0M263.5 146.4h0M300.5 133.6h0M297.5 140.6h0M296.8 140.2h0M273.3 145.2h0M310.0 141.8h0M281.6 151.9h0M226.4 138.6h0M222.3 140.3h0M308.5 140.4h0M212.1 150.1h0M311.5 142.8h0M305.4 136.7h0M277.8 149.4h0M317.8 142.9h0M314.8 165.3h0M309.3 133.7h0M278.7 132.0h0M314.5 133.6h0M319.4 142.5h0M305.6 140.3h0M263.8 144.1h0"/><path stroke="#00f872" d="M240.1 158.7h0M278.4 150.1h0M245.9 153.3h0M289.9 168.8h0M302.2 174.2h0M287.6 151.0h0M318.7 152.1h0M312.0 153.8h0M274.1 159.0h0M309.7 165.0h0M224.7 178.6h0M281.0 150.4h0M266.0 169.8h0M224.3 163.0h0M309.1 153.4h0"/><path stroke="#91f700" d="M273.9 149.4h0M299.8 146.1h0M312.9 148.2h0M249.8 153.7h0M306.7 143.8h0M278.1 147.8h0M307.9 140.2h0M257.0 144.7h0M301.4 152.9h0M307.9 166.2h0M265.9 139.4h0M308.5 151.1h0M313.1 144.9h0M287.0 145.1h0M303.8 144.2h0M288.6 151.9h0M247.6 156.5h0M209.7 155.6h0M298.2 144.8h0M253.7 141.2h0M314.4 149.8h0M265.6 179.6h0M315.5 143.4h0M283.1 178.2h0M299.3 157.8h0M310.4 137.0h0M275.9 184.3h0M238.7 151.7h0M301.3 162.8h0M316.8 142.0h0M301.5 150.9h0M290.9 146.4h0M319.3 138.8h0M292.9 156.8h0M292.2 154.6h0M318.5 148.0h0M284.5 135.2h0M211.0 156.3h0M236.9 146.0h0M309.2 156.7h0M250.4 148.4h0M254.8 174.2h0M260.3 140.3h0M227.3 145.4h0M295.9 145.8h0M251.1 153.0h0M314.7 145.6h0M290.5 150.0h0M320.1 143.1h0M312.8 133.7h0M229.5 147.8h0M315.3 147.8h0M318.0 170.3h0M299.4 146.0h0M282.6 151.2h0M291.3 150.4h0M261.4 178.3h0M305.9 165.8h0M312.3 143.4h0M300.5 148.6h0M252.3 165.3h0M285.3 159.6h0M263.4 152.9h0M243.5 154.3h0M288.5 150.7h0M313.1 143.4h0M277.0 143.0h0M316.2 144.6h0M300.8 152.9h0M290.3 149.1h0"/><path stroke="#65f500" d="M296.0 155.4h0M301.5 159.5h0M307.0 158.9h0M298.1 151.3h0M319.8 171.0h0M319.7 146.6h0M318.7 156.3h0M286.9 150.8h0M315.2 145.4h0M254.8 134.0h0M293.2 134.5h0M257.8 160.9h0M310.8 162.3h0M318.0 148.9h0M314.5 164.4h0M254.0 150.2h0M290.9 157.9h0M301.2 147.7h0M297.8 159.5h0M222.6 188.7h0M289.7 129.3h0M293.1 185.7h0M300.5 157.9h0M284.9 153.5h0M311.1 144.9h0M316.0 162.7h0M268.5 168.3h0M318.7 140.5h0M299.3 153.1h0M265.8 160.0h0M269.6 152.6h0M269.9 154.7h0M313.8 159.6h0M241.7 152.5h0M241.3 164.8h0M310.6 149.1h0M274.2 147.3h0M263.2 162.2h0M270.5 155.6h0M281.7 152.0h0M320.0 138.0h0M313.4 147.6h0M306.4 151.8h0M312.0 164.4h0M309.8 151.1h0M216.9 175.0h0M220.4 151.3h0M303.1 127.8h0M240.9 164.6h0M300.7 145.4h0M311.8 160.3h0M296.2 153.6h0M289.5 160.9h0M300.9 149.1h0M305.6 164.2h0M259.1 147.8h0M296.7 156.9h0M312.0 156.4h0M300.8 146.7h0M258.1 154.4h0M271.0 151.6h0M311.7 154.9h0M295.9 153.6h0"/><path stroke="#fc1700" d="M295.0 70.8h0M221.2 81.1h0M290.6 86.4h0M236.2 82.1h0M248.8 91.2h0M316.9 79.7h0M277.3 93.5h0M315.4 69.5h0M265.8 79.9h0M316.9 101.4h0M318.6 74.0h0M292.9 77.3h0M311.6 64.3h0M307.1 65.9h0M295.2 94.5h0M318.4 79.0h0M230.1 91.5h0M317.7 73.0h0M245.6 82.3h0M307.9 67.5h0M318.6 103.2h0M301.2 74.0h0M317.1 85.3h0M268.2 75.9h0M208.0 71.0h0M210.2 87.5h0M300.2 81.9h0M257.0 75.1h0M262.9 99.6h0M280.6 89.1h0M300.1 85.8h0M310.6 66.0h0M254.7 91.9h0M310.1 69.6h0M295.7 80.8h0M240.0 74.6h0M293.0 74.1h0M316.6 62.3h0M317.8 73.1h0M316.3 69.6h0M311.4 74.2h0M305.7 87.8h0M302.8 87.9h0M308.7 82.5h0M295.2 75.9h0M283.3 97.7h0M266.1 68.7h0M313.3 80.1h0M211.4 84.4h0M318.9 95.0h0M316.7 76.2h0M292.1 87.1h0M292.1 63.4h0M288.7 94.1h0M269.4 65.5h0M299.5 82.9h0M300.9 65.6h0M308.6 77.3h0M302.7 74.4h0M284.0 65.1h0M317.0 75.7h0M314.0 62.7h0M240.3 96.9h0M320.6 85.0h0M319.4 77.2h0M310.8 74.8h0M219.0 83.1h0M286.7 89.3h0M298.3 77.2h0M301.5 80.5h0M297.5 77.3h0M261.8 67.0h0M287.1 60.6h0M313.8 77.4h0M279.6 73.9h0M305.1 75.1h0M320.5 97.6h0M290.9 93.6h0M304.5 62.0h0M257.0 78.0h0M316.0 61.2h0M289.0 89.3h0M305.9 93.6h0M315.0 84.9h0M319.3 73.5h0M301.5 72.7h0M293.9 77.2h0M277.0 98.8h0M252.6 102.7h0M300.8 27.0h0"/><path stroke="#00fa96" d="M303.3 159.5h0M285.3 157.5h0M262.2 155.4h0M299.3 162.4h0M310.3 128.9h0M247.9 155.4h0M267.2 141.4h0M308.4 152.9h0M310.5 149.5h0M316.5 156.5h0M311.0 148.3h0M308.9 162.5h0M301.8 155.1h0M197.7 157.2h0M316.7 162.6h0M309.5 165.3h0M264.0 162.0h0M277.6 148.8h0M308.1 158.4h0"/><path stroke="#00f52a" d="M263.0 166.0h0M301.8 154.7h0M286.1 163.5h0M320.6 161.1h0M290.6 161.5h0M246.7 151.7h0M297.5 161.3h0M251.8 156.9h0M318.6 147.0h0M308.9 148.5h0M302.4 142.3h0M233.3 141.4h0M271.7 158.5h0M306.2 153.6h0M257.6 159.8h0M212.1 171.2h0M255.8 148.2h0M294.0 160.1h0M317.2 195.4h0M293.2 156.3h0M221.6 156.1h0M296.5 147.2h0M215.8 166.1h0M245.2 148.4h0M247.6 162.2h0M276.5 140.3h0M206.3 155.0h0"/><path stroke="#00d7ff" d="M258.0 181.3h0M298.0 162.9h0M228.2 149.4h0M252.1 170.1h0"/><path stroke="#d00000" d="M298.3 37.7h0M264.2 37.9h0M303.4 25.2h0M283.4 43.4h0M262.0 45.3h0M283.9 39.3h0M239.5 38.9h0M299.9 27.0h0M246.5 46.6h0M317.7 39.6h0M309.0 22.7h0M263.9 44.5h0M302.7 25.5h0M256.9 41.5h0M277.7 44.0h0M288.9 24.9h0"/><path stroke="#bf0000" d="M303.5 28.1h0M302.1 22.7h0M303.5 19.2h0M206.4 38.7h0M317.1 21.3h0"/><path stroke="#00face" d="M320.4 147.1h0M320.3 154.3h0M306.8 166.8h0M284.9 153.2h0M284.1 138.9h0M298.7 150.8h0M278.9 151.3h0M219.6 163.4h0M257.7 155.3h0M297.4 149.2h0M317.0 156.3h0"/></g></g>
</g>
<g>
<clipPath id="c2"><rect x="416.60" y="6.60" width="284.80" height="246.80"/></clipPath>
<path d="M464.07 6.60V253.40M511.53 6.60V253.40M559.00 6.60V253.40M606.47 6.60V253.40M653.93 6.60V253.40M416.60 233.77H701.40M416.60 144.42H701.40M416.60 55.06H701.40" stroke="#efefef" stroke-width="0.7" stroke-dasharray="1.2 0.5" fill="none"/><rect x="416.60" y="6.60" width="284.80" height="246.80" fill="none" stroke="#a0a0a0" stroke-width="1.15"/><path d="M416.60 253.40v-1.90M416.60 6.60v1.90M464.07 253.40v-1.90M464.07 6.60v1.90M511.53 253.40v-1.90M511.53 6.60v1.90M559.00 253.40v-1.90M559.00 6.60v1.90M606.47 253.40v-1.90M606.47 6.60v1.90M653.93 253.40v-1.90M653.93 6.60v1.90M701.40 253.40v-1.90M701.40 6.60v1.90M416.60 247.61h1.15M701.40 247.61h-1.15M416.60 242.43h1.15M701.40 242.43h-1.15M416.60 237.86h1.15M701.40 237.86h-1.15M416.60 233.77h1.90M701.40 233.77h-1.90M416.60 206.87h1.15M701.40 206.87h-1.15M416.60 191.14h1.15M701.40 191.14h-1.15M416.60 179.97h1.15M701.40 179.97h-1.15M416.60 171.31h1.15M701.40 171.31h-1.15M416.60 164.24h1.15M701.40 164.24h-1.15M416.60 158.26h1.15M701.40 158.26h-1.15M416.60 153.08h1.15M701.40 153.08h-1.15M416.60 148.51h1.15M701.40 148.51h-1.15M416.60 144.42h1.90M701.40 144.42h-1.90M416.60 117.52h1.15M701.40 117.52h-1.15M416.60 101.79h1.15M701.40 101.79h-1.15M416.60 90.62h1.15M701.40 90.62h-1.15M416.60 81.96h1.15M701.40 81.96h-1.15M416.60 74.89h1.15M701.40 74.89h-1.15M416.60 68.91h1.15M701.40 68.91h-1.15M416.60 63.72h1.15M701.40 63.72h-1.15M416.60 59.15h1.15M701.40 59.15h-1.15M416.60 55.06h1.90M701.40 55.06h-1.90M416.60 28.17h1.15M701.40 28.17h-1.15M416.60 12.43h1.15M701.40 12.43h-1.15" stroke="#444" stroke-width="0.55" fill="none"/><text x="416.60" y="260.40" text-anchor="middle">6</text><text x="464.07" y="260.40" text-anchor="middle">7</text><text x="511.53" y="260.40" text-anchor="middle">8</text><text x="559.00" y="260.40" text-anchor="middle">9</text><text x="606.47" y="260.40" text-anchor="middle">10</text><text x="653.93" y="260.40" text-anchor="middle">11</text><text x="701.40" y="260.40" text-anchor="middle">12</text><text x="413.90" y="236.77" text-anchor="end">100</text><text x="413.90" y="147.42" text-anchor="end">1000</text><text x="413.90" y="58.06" text-anchor="end">10000</text><text x="559.00" y="271.60" text-anchor="middle">TESS magnitude</text><text transform="translate(390.60 130.00) rotate(-90)" text-anchor="middle">Transit Depth [ppm]</text><rect x="708.30" y="6.70" width="14.50" height="246.95" fill="url(#jet)" stroke="#777" stroke-width="0.25"/><text x="725.60" y="256.35">2500</text><text x="725.60" y="225.48">3000</text><text x="725.60" y="194.61">3500</text><text x="725.60" y="163.74">4000</text><text x="725.60" y="132.88">4500</text><text x="725.60" y="102.01">5000</text><text x="725.60" y="71.14">5500</text><text x="725.60" y="40.27">6000</text><text x="725.60" y="9.40">6500</text><path d="M722.80 253.65h-1.6M708.30 253.65h1.6M722.80 222.78h-1.6M708.30 222.78h1.6M722.80 191.91h-1.6M708.30 191.91h1.6M722.80 161.04h-1.6M708.30 161.04h1.6M722.80 130.18h-1.6M708.30 130.18h1.6M722.80 99.31h-1.6M708.30 99.31h1.6M722.80 68.44h-1.6M708.30 68.44h1.6M722.80 37.57h-1.6M708.30 37.57h1.6M722.80 6.70h-1.6M708.30 6.70h1.6" stroke="#444" stroke-width="0.5" fill="none"/><text transform="translate(754.00 130.00) rotate(-90)" text-anchor="middle">Effective Temperature [K]</text>
<g clip-path="url(#c2)"><g fill="none" stroke-width="2.75" stroke-linecap="round"><path stroke="#ea0000" d="M462.6 109.7h0M533.8 118.2h0M560.0 141.4h0M560.0 145.3h0M573.8 140.5h0M579.9 66.2h0M581.3 66.2h0M664.4 111.6h0M629.6 112.2h0M657.0 123.4h0M632.7 118.2h0M649.8 121.8h0M648.8 106.7h0M667.1 95.8h0M654.7 116.4h0M602.4 113.9h0M650.8 112.2h0M647.2 118.4h0M663.7 104.5h0M668.1 118.6h0M664.0 112.7h0M631.2 124.2h0M621.9 103.5h0M653.2 109.5h0M612.4 116.8h0M618.0 133.0h0M650.1 116.9h0M608.9 113.9h0M667.1 106.7h0M622.2 112.3h0M654.2 113.1h0"/><path stroke="#ff3000" d="M450.9 159.9h0M479.2 148.0h0M555.0 167.1h0M556.1 155.6h0M564.8 163.1h0M576.2 160.8h0M613.7 153.9h0M585.3 146.7h0M587.3 178.7h0M643.4 164.2h0M625.4 140.9h0M656.2 149.8h0M646.4 154.0h0M637.7 147.0h0M629.8 163.1h0M646.9 134.9h0M641.8 153.4h0M612.0 136.7h0M645.8 159.8h0M645.8 130.7h0M657.4 135.5h0M650.3 126.3h0M631.5 148.2h0M649.5 146.8h0M654.1 149.8h0M647.1 126.7h0M625.4 146.1h0M639.8 141.8h0M642.5 128.0h0M625.0 135.2h0M603.7 163.7h0M617.0 166.9h0"/><path stroke="#ff5200" d="M456.7 174.3h0M521.8 167.6h0M518.0 175.7h0M519.4 176.1h0M527.9 180.4h0M575.1 170.3h0M575.1 174.6h0M575.1 185.1h0M578.9 155.8h0M635.8 156.5h0M647.0 146.2h0M640.6 154.4h0M632.7 174.9h0M640.4 171.3h0M619.3 138.9h0M652.2 150.3h0M631.9 160.4h0M647.6 137.4h0M591.5 175.7h0M653.6 150.0h0M644.3 154.2h0M624.7 160.5h0M642.8 160.1h0M584.1 156.5h0M649.4 159.0h0M631.3 161.3h0M626.2 156.3h0"/><path stroke="#ffb600" d="M469.8 148.0h0M516.9 240.6h0M569.0 183.5h0M636.9 191.2h0M637.0 185.9h0M636.3 189.1h0M636.8 167.0h0M643.3 187.5h0M632.6 172.9h0M633.1 182.6h0M623.9 190.3h0M640.8 182.7h0M601.1 188.1h0M631.7 186.7h0M603.1 189.2h0M638.3 175.6h0M623.9 178.6h0M627.4 188.4h0M640.3 159.3h0M610.7 185.2h0M629.8 162.7h0M638.5 179.9h0M620.4 196.6h0M639.4 179.6h0M639.5 172.6h0M594.0 187.1h0M635.7 179.5h0M641.8 172.5h0M640.7 180.2h0"/><path stroke="#ff7300" d="M512.1 150.0h0M539.4 174.8h0M629.8 170.6h0M646.0 171.1h0M638.6 163.6h0M602.5 168.4h0M638.1 153.4h0M625.9 165.8h0M617.5 177.1h0M641.1 144.2h0M619.1 174.2h0M600.7 171.7h0M617.9 177.2h0M639.6 166.7h0M640.2 145.6h0M639.0 173.7h0M655.2 153.9h0M598.5 180.3h0M579.6 161.9h0M624.1 159.5h0M605.6 172.7h0M628.6 161.8h0M579.6 181.0h0M641.6 158.7h0M633.7 178.7h0M639.4 144.1h0"/><path stroke="#f60400" d="M526.8 139.9h0M627.6 115.8h0M648.8 123.0h0M654.1 136.1h0M616.2 135.8h0M645.4 113.8h0M643.4 132.2h0M639.1 137.7h0M655.6 126.4h0M631.7 134.5h0M616.1 136.5h0M623.8 142.8h0M652.8 121.3h0M619.4 131.2h0M646.6 117.0h0M606.4 141.1h0"/><path stroke="#ff9400" d="M543.2 170.3h0M590.5 186.3h0M636.0 185.0h0M631.4 171.7h0M623.7 176.6h0M641.9 169.4h0M651.1 175.8h0M649.6 168.0h0M632.8 171.0h0M627.7 153.4h0M625.1 175.5h0M641.7 153.0h0M631.2 163.2h0M633.4 157.6h0M627.5 186.3h0M613.6 180.7h0M620.2 174.3h0M636.8 181.5h0"/><path stroke="#dd0000" d="M562.3 107.4h0M659.3 112.1h0M658.9 100.9h0M665.3 109.2h0M666.3 103.8h0M589.4 110.6h0M637.7 100.1h0M643.5 96.8h0M646.4 99.5h0M636.8 105.5h0M651.6 96.9h0M611.7 115.2h0M618.0 96.0h0M639.9 124.3h0M661.2 107.5h0M594.7 126.4h0M634.4 103.4h0M610.0 104.2h0M584.4 111.8h0M677.7 77.4h0"/><path stroke="#ebf900" d="M462.1 207.1h0M526.8 197.8h0M542.3 198.5h0M569.5 194.3h0M617.3 200.3h0M628.7 200.4h0M612.5 198.6h0M607.5 201.4h0"/><path stroke="#b9f800" d="M481.1 200.1h0M561.6 193.7h0M633.1 190.9h0M584.7 201.5h0M638.7 200.4h0M620.0 223.0h0M598.1 203.8h0M588.9 203.5h0M645.9 192.0h0M595.4 205.1h0"/><path stroke="#00f300" d="M483.8 214.7h0M510.6 210.9h0M535.8 241.3h0M545.7 209.1h0M561.6 205.5h0M606.9 211.9h0M631.4 203.6h0M627.8 208.3h0M626.8 208.3h0M609.9 214.6h0M582.0 212.6h0M633.8 213.0h0M624.2 215.3h0M604.6 214.7h0"/><path stroke="#00f4fb" d="M491.2 216.3h0"/><path stroke="#fff400" d="M515.3 192.5h0M569.5 187.8h0M578.7 193.8h0M636.7 185.1h0M643.5 186.0h0M632.2 195.4h0M597.7 189.6h0M631.2 186.6h0M607.1 192.0h0M579.1 198.2h0M641.4 194.3h0M620.6 196.2h0M626.8 189.3h0M596.1 194.1h0"/><path stroke="#ffd500" d="M518.7 195.1h0M640.8 183.3h0M622.1 193.1h0M628.3 184.4h0M632.3 186.0h0M639.9 179.2h0M644.1 187.8h0M639.5 188.3h0M649.8 193.2h0M633.4 179.9h0M602.7 194.5h0M627.2 177.4h0M639.2 184.1h0M583.6 179.9h0"/><path stroke="#00f40e" d="M523.9 204.1h0M571.7 220.1h0M634.2 213.2h0M610.3 205.9h0M618.8 217.5h0M596.6 209.4h0M638.7 207.2h0M584.1 225.0h0M617.3 221.6h0M666.3 183.7h0"/><path stroke="#00f74e" d="M539.9 214.7h0M587.3 223.0h0M599.1 207.4h0M634.3 211.1h0M589.6 215.3h0M604.6 215.8h0"/><path stroke="#00f41c" d="M543.7 212.5h0M576.2 217.6h0M617.1 213.2h0M630.3 194.6h0M621.0 222.9h0M604.3 199.7h0"/><path stroke="#1ff300" d="M575.8 208.2h0M583.6 198.5h0M632.8 208.8h0M630.6 219.6h0M593.0 217.9h0M588.0 226.1h0M607.5 213.1h0M595.7 225.7h0M651.6 191.8h0M665.8 182.0h0"/><path stroke="#3ff400" d="M626.3 223.2h0M576.6 212.8h0M623.5 210.8h0M613.4 213.8h0M584.2 209.6h0M599.4 212.9h0M625.0 210.6h0M623.1 210.5h0M599.2 214.0h0M652.0 187.3h0"/><path stroke="#00f872" d="M620.8 216.4h0M626.5 211.0h0M605.0 220.6h0"/><path stroke="#d2f900" d="M606.9 202.9h0M638.6 199.6h0M618.0 199.3h0M630.3 190.5h0M644.2 204.1h0M607.0 196.2h0M603.0 198.0h0M592.8 207.7h0"/><path stroke="#fc1700" d="M601.9 138.7h0M616.9 139.7h0M629.5 148.8h0M646.5 137.5h0M610.7 149.2h0M626.3 139.9h0M648.9 133.5h0M588.7 128.6h0M590.9 145.1h0M637.7 132.7h0M643.6 157.3h0M635.4 149.5h0M620.7 132.2h0M646.8 126.4h0M592.1 142.1h0M650.1 123.1h0M621.0 154.5h0M599.7 140.7h0M642.5 124.6h0M667.8 118.3h0M660.3 131.5h0M637.7 135.6h0M633.3 160.3h0M681.5 84.6h0"/><path stroke="#91f700" d="M630.5 211.3h0M637.7 202.3h0M628.2 214.2h0M590.4 213.3h0M634.4 198.9h0M619.4 209.4h0M591.6 214.0h0M617.6 203.7h0M631.0 206.1h0M641.0 198.0h0M607.9 203.0h0M631.8 210.6h0M610.1 205.4h0M624.2 212.0h0"/><path stroke="#d00000" d="M644.9 95.5h0M664.0 101.0h0M642.7 102.9h0M664.5 96.9h0M620.1 96.5h0M627.1 104.2h0M644.6 102.1h0M637.6 99.1h0M658.4 101.6h0M669.6 82.5h0"/><path stroke="#65f500" d="M635.5 191.7h0M634.7 207.9h0M622.3 210.2h0M621.9 222.5h0M601.1 209.0h0M621.6 222.3h0M638.8 212.1h0"/><path stroke="#00f52a" d="M627.4 209.3h0M632.5 214.6h0M614.0 199.1h0M592.8 228.9h0M636.4 205.8h0M602.3 213.8h0M596.4 223.7h0M625.9 206.1h0M628.2 219.9h0M587.0 212.6h0"/><path stroke="#00fa96" d="M628.6 213.0h0M578.3 214.8h0"/><path stroke="#00d7ff" d="M608.9 207.0h0"/><path stroke="#00face" d="M600.2 221.0h0M638.4 213.0h0"/><path stroke="#bf0000" d="M587.0 96.3h0"/></g></g>
</g>
<g>
<clipPath id="c3"><rect x="31.70" y="285.15" width="288.60" height="246.60"/></clipPath>
<path d="M79.80 285.15V531.75M127.90 285.15V531.75M176.00 285.15V531.75M224.10 285.15V531.75M272.20 285.15V531.75M31.70 449.55H320.30M31.70 367.35H320.30" stroke="#efefef" stroke-width="0.7" stroke-dasharray="1.2 0.5" fill="none"/><rect x="31.70" y="285.15" width="288.60" height="246.60" fill="none" stroke="#a0a0a0" stroke-width="1.15"/><path d="M31.70 531.75v-1.90M31.70 285.15v1.90M79.80 531.75v-1.90M79.80 285.15v1.90M127.90 531.75v-1.90M127.90 285.15v1.90M176.00 531.75v-1.90M176.00 285.15v1.90M224.10 531.75v-1.90M224.10 285.15v1.90M272.20 531.75v-1.90M272.20 285.15v1.90M320.30 531.75v-1.90M320.30 285.15v1.90M31.70 531.75h1.90M320.30 531.75h-1.90M31.70 507.01h1.15M320.30 507.01h-1.15M31.70 492.53h1.15M320.30 492.53h-1.15M31.70 482.26h1.15M320.30 482.26h-1.15M31.70 474.29h1.15M320.30 474.29h-1.15M31.70 467.79h1.15M320.30 467.79h-1.15M31.70 462.28h1.15M320.30 462.28h-1.15M31.70 457.52h1.15M320.30 457.52h-1.15M31.70 453.31h1.15M320.30 453.31h-1.15M31.70 449.55h1.90M320.30 449.55h-1.90M31.70 424.81h1.15M320.30 424.81h-1.15M31.70 410.33h1.15M320.30 410.33h-1.15M31.70 400.06h1.15M320.30 400.06h-1.15M31.70 392.09h1.15M320.30 392.09h-1.15M31.70 385.59h1.15M320.30 385.59h-1.15M31.70 380.08h1.15M320.30 380.08h-1.15M31.70 375.32h1.15M320.30 375.32h-1.15M31.70 371.11h1.15M320.30 371.11h-1.15M31.70 367.35h1.90M320.30 367.35h-1.90M31.70 342.61h1.15M320.30 342.61h-1.15M31.70 328.13h1.15M320.30 328.13h-1.15M31.70 317.86h1.15M320.30 317.86h-1.15M31.70 309.89h1.15M320.30 309.89h-1.15M31.70 303.39h1.15M320.30 303.39h-1.15M31.70 297.88h1.15M320.30 297.88h-1.15M31.70 293.12h1.15M320.30 293.12h-1.15M31.70 288.91h1.15M320.30 288.91h-1.15M31.70 285.15h1.90M320.30 285.15h-1.90" stroke="#444" stroke-width="0.55" fill="none"/><text x="31.70" y="540.55" text-anchor="middle">6</text><text x="79.80" y="540.55" text-anchor="middle">7</text><text x="127.90" y="540.55" text-anchor="middle">8</text><text x="191.00" y="540.55" text-anchor="middle">9</text><text x="224.10" y="540.55" text-anchor="middle">10</text><text x="272.20" y="540.55" text-anchor="middle">11</text><text x="320.30" y="540.55" text-anchor="middle">12</text><text x="27.90" y="534.75" text-anchor="end">0.1</text><text x="27.90" y="452.55" text-anchor="end">1</text><text x="27.90" y="370.35" text-anchor="end">10</text><text x="27.90" y="288.15" text-anchor="end">100</text><text x="176.00" y="549.75" text-anchor="middle">TESS magnitude</text><text transform="translate(10.30 408.45) rotate(-90)" text-anchor="middle">RV semiamplitude [m/s]</text><rect x="328.00" y="285.20" width="14.30" height="246.55" fill="url(#jet)" stroke="#777" stroke-width="0.25"/><text x="345.10" y="534.45">2500</text><text x="345.10" y="503.63">3000</text><text x="345.10" y="472.81">3500</text><text x="345.10" y="441.99">4000</text><text x="345.10" y="411.18">4500</text><text x="345.10" y="380.36">5000</text><text x="345.10" y="349.54">5500</text><text x="345.10" y="318.72">6000</text><text x="345.10" y="287.90">6500</text><path d="M342.30 531.75h-1.6M328.00 531.75h1.6M342.30 500.93h-1.6M328.00 500.93h1.6M342.30 470.11h-1.6M328.00 470.11h1.6M342.30 439.29h-1.6M328.00 439.29h1.6M342.30 408.48h-1.6M328.00 408.48h1.6M342.30 377.66h-1.6M328.00 377.66h1.6M342.30 346.84h-1.6M328.00 346.84h1.6M342.30 316.02h-1.6M328.00 316.02h1.6M342.30 285.20h-1.6M328.00 285.20h1.6" stroke="#444" stroke-width="0.5" fill="none"/><text transform="translate(374.20 408.45) rotate(-90)" text-anchor="middle">Effective Temperature [K]</text>
<g clip-path="url(#c3)"><g fill="none" stroke-width="2.75" stroke-linecap="round"><path stroke="#ea0000" d="M78.3 351.0h0M150.5 354.4h0M177.0 383.0h0M177.0 390.0h0M191.0 386.2h0M197.2 328.1h0M198.6 330.6h0M318.8 359.5h0M313.5 363.0h0M282.8 361.2h0M300.1 359.7h0M296.0 362.2h0M247.6 366.6h0M275.3 362.1h0M318.1 366.2h0M305.5 346.4h0M309.2 365.3h0M250.7 375.6h0M268.0 368.3h0M304.6 362.3h0M316.4 371.8h0M316.0 354.5h0M303.6 360.7h0M303.0 363.3h0M267.0 348.0h0M293.8 362.2h0M285.6 350.3h0M273.0 363.5h0M306.7 356.1h0M220.0 353.9h0M291.3 343.8h0M314.1 350.9h0M291.2 366.0h0M296.9 362.3h0M300.2 357.6h0M269.0 357.5h0M265.4 362.6h0M318.6 363.1h0M312.0 356.4h0M305.5 348.8h0M307.6 368.8h0M282.1 364.8h0M286.5 347.4h0M290.8 357.1h0M282.4 366.2h0M249.2 360.6h0M289.8 362.7h0M288.1 350.9h0M239.8 362.9h0M271.5 361.3h0M230.1 360.0h0M289.4 334.2h0M235.8 365.9h0M268.3 365.4h0M226.6 350.1h0M285.5 364.2h0M307.0 365.5h0M296.9 346.2h0M240.0 349.7h0M315.5 361.0h0M289.3 356.6h0M312.1 347.6h0M315.0 360.8h0M312.4 363.2h0M295.4 360.1h0M272.5 373.7h0M313.4 356.5h0M318.0 371.7h0M300.2 344.2h0M295.8 348.2h0M310.0 362.4h0"/><path stroke="#ff3000" d="M66.4 404.4h0M95.2 386.0h0M172.0 414.4h0M173.1 401.3h0M181.8 412.6h0M193.4 412.4h0M275.9 387.2h0M278.8 380.7h0M302.1 395.4h0M311.3 391.6h0M281.3 398.3h0M295.0 394.9h0M231.4 403.8h0M281.6 393.6h0M202.6 402.8h0M293.1 400.1h0M204.7 389.8h0M309.8 390.8h0M319.9 389.3h0M305.6 394.0h0M292.8 411.3h0M312.5 407.6h0M281.5 406.0h0M314.3 404.6h0M289.5 397.1h0M281.5 397.6h0M313.9 398.0h0M288.6 397.7h0M311.3 392.6h0M261.5 388.7h0M310.1 389.9h0M320.0 408.5h0M243.3 392.8h0M274.4 388.0h0M302.8 392.5h0M264.6 390.3h0M319.0 394.8h0M303.5 391.5h0M311.2 406.1h0M319.4 390.1h0M297.5 390.0h0M255.8 393.6h0M294.6 393.6h0M273.1 392.8h0M285.8 403.8h0M306.4 397.6h0M293.1 399.6h0M290.1 394.6h0M247.7 396.7h0M279.3 405.5h0M296.0 393.2h0M315.9 396.1h0M273.1 398.9h0M320.1 386.3h0M317.9 398.7h0M313.0 407.5h0M303.3 388.4h0M265.1 388.2h0M273.3 384.9h0M319.8 401.9h0M259.9 392.8h0M229.7 395.5h0M264.0 392.5h0M264.0 400.0h0M300.1 409.8h0M290.3 389.2h0M275.7 388.0h0M288.2 416.6h0M317.1 396.2h0M283.3 387.8h0M280.1 401.3h0M268.5 394.9h0M296.8 393.2h0M284.6 386.1h0M314.1 395.1h0M249.5 399.1h0M295.8 390.8h0M317.1 407.4h0M301.6 396.3h0M267.7 406.9h0M308.4 398.6h0M315.6 402.0h0M312.4 390.7h0M272.4 394.6h0M265.3 397.1h0M243.3 384.6h0M281.6 403.0h0M257.9 388.5h0M313.7 400.0h0M260.6 394.2h0M284.2 396.1h0M309.5 396.7h0M317.3 401.1h0M306.7 399.3h0M242.9 399.9h0M291.5 392.5h0M281.7 408.6h0M315.1 386.7h0M313.0 396.2h0M273.9 390.5h0M221.3 402.9h0M317.7 408.8h0M234.8 398.2h0M293.0 398.9h0"/><path stroke="#ff5200" d="M72.3 418.9h0M138.3 415.5h0M134.5 415.5h0M135.9 423.2h0M144.5 429.5h0M192.3 418.2h0M192.3 423.2h0M192.3 420.0h0M299.2 410.4h0M287.4 413.9h0M196.1 401.9h0M312.4 415.7h0M305.1 398.2h0M253.8 416.4h0M310.4 402.7h0M265.2 412.9h0M319.0 406.8h0M295.8 401.5h0M311.7 405.7h0M292.1 421.3h0M315.5 400.3h0M258.7 399.3h0M316.4 407.9h0M291.1 413.9h0M250.7 404.8h0M295.9 410.8h0M274.0 405.5h0M315.2 411.4h0M288.0 402.3h0M310.4 400.5h0M272.1 402.1h0M289.1 405.5h0M297.8 401.5h0M271.9 400.5h0M265.6 413.1h0M294.0 410.6h0M296.4 416.2h0M258.4 412.1h0M237.1 403.3h0M312.1 415.7h0M270.1 402.5h0M310.4 413.0h0M285.4 401.9h0M308.6 400.9h0M275.7 403.8h0M279.4 397.1h0M290.6 407.3h0M270.4 400.7h0M249.9 412.2h0M297.2 399.1h0M300.8 410.2h0M287.6 398.6h0M290.7 411.6h0M265.8 403.3h0M294.0 404.5h0M320.2 407.4h0M284.0 406.6h0M313.5 396.1h0M276.4 399.2h0M298.7 410.8h0M282.8 404.7h0M293.4 407.5h0M295.2 400.4h0M297.3 408.2h0M303.8 405.9h0M319.7 405.4h0M308.7 409.4h0M311.9 409.5h0M209.0 393.4h0M317.1 416.7h0M312.7 395.8h0M271.9 412.3h0M275.1 400.9h0M301.3 395.3h0M262.4 403.7h0M300.5 402.4h0M316.4 409.2h0M314.4 404.0h0M297.3 413.7h0M308.0 406.0h0M301.3 402.4h0M279.9 409.7h0M288.0 403.1h0M242.6 407.9h0M319.6 402.1h0M318.8 406.6h0M305.3 417.2h0M301.8 408.8h0M317.5 403.6h0M309.1 411.6h0M292.6 403.6h0M292.0 407.2h0M311.6 392.8h0M319.3 407.3h0M260.9 401.2h0M317.5 403.5h0M201.4 405.8h0M307.1 396.5h0M295.5 404.8h0M297.7 412.7h0M309.3 402.8h0M315.1 410.3h0M297.9 415.5h0M267.6 398.5h0M249.3 404.8h0M244.1 399.2h0M311.0 402.4h0M313.8 407.1h0M314.0 398.2h0M292.7 413.2h0"/><path stroke="#ffb600" d="M85.6 402.9h0M133.4 433.3h0M186.1 438.5h0M255.0 427.2h0M290.9 425.3h0M288.2 427.2h0M319.5 444.2h0M255.1 431.9h0M254.4 435.1h0M254.8 429.7h0M261.4 426.6h0M282.7 437.1h0M250.6 426.8h0M306.0 424.2h0M316.6 428.9h0M304.5 432.8h0M281.5 429.9h0M269.2 449.1h0M251.1 435.5h0M306.2 434.1h0M277.1 431.6h0M293.3 435.0h0M274.2 430.7h0M280.0 435.4h0M314.3 432.7h0M296.3 434.8h0M271.8 434.1h0M267.9 433.1h0M241.7 431.5h0M296.1 429.1h0M318.8 435.1h0M317.3 434.1h0M310.5 432.8h0M304.2 430.5h0M269.9 441.0h0M258.8 432.4h0M292.8 430.1h0M218.7 421.5h0M307.7 428.3h0M318.9 431.9h0M297.2 433.8h0M308.6 433.0h0M288.7 433.0h0M315.0 424.3h0M299.8 428.7h0M292.2 429.7h0M295.1 428.8h0M290.5 437.3h0M316.5 427.1h0M249.7 441.6h0M285.4 437.9h0M220.7 422.7h0M256.4 433.4h0M268.3 427.3h0M311.2 432.3h0M306.7 432.5h0M241.8 426.6h0M306.8 430.0h0M295.6 420.4h0M245.3 428.5h0M287.3 426.6h0M314.5 422.0h0M258.4 429.7h0M228.4 428.9h0M296.9 431.2h0M247.8 429.3h0M287.6 420.1h0M274.6 436.0h0M256.6 435.4h0M316.2 439.1h0M319.2 433.5h0M300.5 425.4h0M290.6 433.5h0M238.2 434.5h0M317.1 437.9h0M279.5 430.2h0M257.5 434.4h0M287.9 440.3h0M257.6 420.7h0M286.9 432.7h0M305.9 421.4h0M305.2 427.7h0M314.0 437.6h0M211.5 438.7h0M317.9 425.3h0M290.1 425.4h0M281.3 436.0h0M302.7 435.4h0M301.9 434.0h0M253.7 430.3h0M259.9 437.3h0M315.0 431.7h0M311.6 422.7h0M288.9 428.9h0M269.2 425.7h0M278.6 422.1h0M315.1 429.0h0M309.8 438.0h0M292.2 421.6h0M315.8 417.5h0M258.8 430.5h0"/><path stroke="#ff7300" d="M128.5 399.7h0M156.2 425.2h0M286.4 411.6h0M272.0 412.8h0M247.7 422.6h0M299.9 426.9h0M313.9 411.8h0M278.8 417.9h0M300.6 422.1h0M264.1 416.8h0M267.7 421.6h0M315.3 410.9h0M309.7 413.2h0M256.7 420.5h0M317.7 404.5h0M268.5 415.4h0M301.5 412.5h0M314.4 412.5h0M297.7 420.5h0M220.0 408.2h0M299.5 411.5h0M276.8 413.6h0M256.1 418.4h0M315.8 410.7h0M310.0 415.6h0M316.5 417.7h0M243.8 417.8h0M292.8 411.5h0M235.3 410.3h0M259.2 414.8h0M316.2 419.7h0M298.8 414.7h0M300.3 417.0h0M264.1 410.7h0M294.6 413.2h0M295.7 417.1h0M313.0 416.8h0M319.8 428.8h0M266.1 411.0h0M312.1 418.1h0M305.5 417.2h0M236.9 419.4h0M313.9 415.5h0M306.7 412.3h0M317.4 418.9h0M317.4 403.6h0M311.6 416.8h0M283.3 406.2h0M303.7 420.2h0M302.4 421.7h0M218.2 417.2h0M283.4 416.9h0M315.8 420.7h0M302.0 405.8h0M235.7 401.7h0M311.4 413.1h0M257.7 409.7h0M289.8 419.4h0M319.0 419.2h0M309.9 420.7h0M301.1 419.2h0M287.1 414.9h0M297.4 415.6h0M318.9 406.0h0M295.0 425.0h0M319.0 420.8h0M289.1 405.6h0M258.3 413.1h0M288.5 421.8h0M318.7 406.4h0M272.4 425.2h0M257.0 417.1h0M303.9 416.8h0M273.5 413.0h0M309.0 417.1h0M216.0 413.8h0M196.9 414.0h0M295.7 416.2h0M241.9 421.4h0M269.2 424.6h0M308.8 414.3h0M319.8 412.3h0M271.7 413.2h0M289.9 414.1h0M277.4 416.6h0M307.6 415.8h0M281.7 409.8h0M319.8 420.5h0M286.0 415.3h0M313.3 423.9h0M306.7 407.7h0M292.8 420.3h0M316.9 396.3h0M223.2 411.8h0M293.1 418.6h0M284.9 409.1h0M311.9 418.6h0M316.4 410.1h0M288.4 422.3h0M246.5 424.0h0M318.8 428.4h0M319.6 418.7h0M310.9 419.5h0M318.8 413.3h0M196.8 412.5h0M259.7 412.5h0M251.7 424.2h0M257.5 414.8h0M293.7 420.0h0M311.9 411.8h0"/><path stroke="#f60400" d="M143.4 383.0h0M299.1 375.9h0M302.6 382.2h0M276.9 377.0h0M245.5 362.5h0M281.1 369.3h0M288.8 377.9h0M310.9 370.8h0M319.3 374.3h0M267.0 383.7h0M272.4 363.6h0M315.2 373.0h0M314.5 368.7h0M234.0 371.7h0M302.8 370.5h0M300.3 375.0h0M263.5 357.9h0M290.5 386.3h0M305.6 377.6h0M291.6 359.5h0M319.8 367.5h0M318.9 370.2h0M310.7 377.1h0M298.8 366.7h0M319.5 368.0h0M292.5 375.0h0M315.1 371.1h0M304.2 362.0h0M261.5 370.5h0M301.1 380.2h0M311.0 364.5h0M294.9 373.4h0M313.9 374.5h0M257.1 368.1h0M311.7 370.7h0M273.9 380.2h0M316.2 367.4h0M318.5 369.0h0M283.6 383.5h0M308.0 363.8h0M249.7 380.9h0M316.2 369.2h0M315.2 380.3h0M315.3 389.4h0M312.0 362.0h0M312.7 381.3h0M302.0 367.1h0M319.0 376.7h0M311.0 372.0h0M293.2 382.2h0M233.9 372.3h0M318.1 368.6h0M317.6 369.6h0M241.6 375.8h0M309.3 380.1h0M316.1 365.9h0M299.0 361.0h0M310.8 367.1h0M271.1 389.7h0M237.2 370.3h0M306.2 378.1h0M314.2 376.2h0M305.4 371.3h0M292.4 375.7h0M298.1 378.8h0M311.7 366.8h0M310.3 367.7h0M264.8 376.1h0M302.4 376.2h0M303.1 368.0h0M298.7 365.6h0M320.3 364.1h0M311.2 375.7h0M300.2 369.6h0M319.5 368.6h0M298.0 378.2h0M224.1 382.1h0"/><path stroke="#ff9400" d="M160.0 423.8h0M315.1 431.7h0M282.5 416.4h0M265.5 420.1h0M288.9 432.2h0M273.2 415.5h0M299.3 431.0h0M294.1 432.3h0M207.9 432.0h0M315.5 422.0h0M318.6 429.1h0M267.0 431.1h0M319.9 431.7h0M316.0 423.6h0M298.1 418.1h0M288.0 431.6h0M254.0 413.6h0M269.1 421.4h0M315.9 428.4h0M309.7 417.7h0M302.3 431.6h0M276.0 416.2h0M310.0 434.0h0M312.6 421.1h0M281.7 423.5h0M318.8 424.5h0M296.5 423.4h0M289.4 427.2h0M302.8 418.5h0M294.0 420.5h0M302.6 416.7h0M312.5 426.7h0M302.9 426.2h0M249.4 424.8h0M288.7 426.8h0M312.3 428.3h0M269.2 419.9h0M241.6 426.2h0M312.4 430.0h0M311.1 415.8h0M274.0 427.0h0M260.0 428.7h0M277.3 429.8h0M288.1 427.6h0M269.4 414.7h0M302.0 410.8h0M302.5 420.5h0M313.8 423.4h0M267.8 427.9h0M273.4 418.6h0M315.9 421.4h0M292.3 409.8h0M314.2 406.8h0M278.4 421.1h0M306.7 414.8h0M307.8 427.8h0M250.8 429.5h0M313.3 429.8h0M245.7 422.7h0M316.1 424.0h0M316.5 417.5h0M312.7 434.3h0M320.2 424.7h0M315.8 416.9h0M243.0 424.8h0M265.9 424.8h0M259.8 416.5h0M268.7 422.1h0M280.3 417.6h0M297.7 424.5h0M318.9 430.9h0M295.3 425.6h0M269.9 428.1h0M249.1 424.7h0M317.0 431.2h0M301.5 422.0h0M303.1 429.2h0M301.8 421.7h0M294.4 410.2h0M317.8 417.8h0M305.0 415.5h0M315.7 424.1h0M316.5 425.2h0M303.7 418.4h0M281.0 418.7h0M280.0 413.6h0M251.4 425.8h0M295.6 412.0h0M300.7 429.5h0M273.6 422.4h0M304.3 424.1h0M309.5 429.8h0M309.7 434.3h0M245.4 422.2h0M280.1 426.9h0M304.4 431.1h0M305.9 427.3h0M287.1 429.2h0M231.3 419.8h0M277.7 421.6h0M299.6 430.9h0M271.0 432.2h0M315.7 422.1h0M317.6 429.7h0M311.2 419.6h0M238.0 425.7h0M306.7 414.5h0M312.5 428.7h0M254.8 425.4h0M317.7 427.3h0M317.8 430.7h0M304.8 427.5h0M302.5 421.3h0M308.9 432.5h0M296.2 414.8h0M300.9 422.4h0M297.9 426.9h0"/><path stroke="#dd0000" d="M179.3 338.0h0M277.6 350.8h0M277.3 343.5h0M283.7 333.1h0M284.7 336.3h0M314.0 344.3h0M206.8 334.0h0M255.8 347.4h0M261.7 328.2h0M318.8 347.1h0M288.0 331.4h0M283.5 336.3h0M264.5 335.8h0M254.8 334.5h0M292.8 323.9h0M313.7 333.4h0M301.3 352.2h0M300.2 349.2h0M269.8 341.6h0M314.8 344.8h0M319.3 335.3h0M287.8 344.7h0M229.4 339.0h0M235.8 352.5h0M258.0 338.9h0M309.3 345.2h0M305.2 344.3h0M298.1 335.1h0M300.5 338.9h0M310.5 328.5h0M279.6 353.3h0M212.2 343.1h0M252.4 338.7h0M227.6 334.7h0M201.7 338.8h0M296.2 324.7h0"/><path stroke="#ebf900" d="M77.8 464.6h0M143.4 456.7h0M159.1 457.6h0M186.6 452.2h0M320.0 459.0h0M304.5 457.3h0M291.0 457.1h0M235.1 447.3h0M316.1 453.5h0M315.3 461.3h0M306.0 442.0h0M288.6 453.5h0M316.6 441.4h0M262.6 445.4h0M287.3 449.0h0M304.3 448.0h0M246.7 450.6h0M282.1 442.0h0M295.7 450.3h0M280.9 454.7h0M230.2 459.0h0M318.9 464.2h0M311.5 449.6h0M314.5 449.1h0M263.1 453.7h0M225.2 446.6h0M278.6 450.6h0M300.7 445.2h0M281.9 449.2h0M295.0 447.0h0M273.8 454.3h0M283.2 450.2h0M308.5 455.4h0M295.7 458.3h0M313.8 445.8h0M309.2 460.8h0M308.3 450.1h0M298.0 460.3h0M293.9 452.5h0M306.3 457.5h0M310.5 460.6h0M311.9 451.0h0M320.0 455.5h0M287.5 454.5h0M309.6 458.7h0M304.8 463.7h0M314.2 449.7h0M315.2 465.2h0M306.3 448.7h0"/><path stroke="#b9f800" d="M97.1 463.1h0M178.6 465.5h0M306.4 471.8h0M320.2 470.7h0M251.1 469.0h0M202.1 460.2h0M314.4 471.3h0M305.3 468.3h0M277.4 463.4h0M302.1 467.4h0M318.6 467.0h0M303.2 465.4h0M318.0 462.4h0M262.6 470.8h0M320.2 470.0h0M290.6 464.8h0M283.9 467.6h0M256.8 469.4h0M319.1 464.3h0M289.7 460.6h0M294.3 471.2h0M256.3 466.2h0M312.5 466.8h0M318.5 466.3h0M308.5 467.3h0M315.4 464.2h0M237.9 463.5h0M290.1 471.0h0M318.9 472.0h0M309.0 464.2h0M281.0 459.2h0M286.2 463.9h0M305.5 465.9h0M294.3 461.3h0M215.7 464.9h0M277.0 466.8h0M206.3 466.3h0M276.9 460.4h0M310.9 462.5h0M317.2 465.9h0M307.5 472.5h0M303.3 464.4h0M264.1 464.6h0M297.8 466.1h0M309.9 472.2h0M298.8 470.2h0M212.9 456.3h0M303.6 468.4h0M305.3 469.2h0M295.0 461.6h0M289.8 470.3h0M284.8 462.1h0M319.2 467.1h0M285.0 467.5h0M280.3 466.6h0M287.0 469.7h0M292.0 461.2h0M277.0 466.8h0M259.8 467.6h0M279.1 469.1h0M271.3 470.9h0M311.8 472.8h0M320.0 465.2h0M270.0 467.9h0M271.2 467.0h0M306.0 468.4h0M310.6 469.3h0"/><path stroke="#00f300" d="M99.8 491.7h0M127.0 487.4h0M152.5 491.7h0M162.6 488.1h0M178.6 491.7h0M269.2 492.6h0M224.6 491.2h0M316.5 490.5h0M302.0 488.5h0M249.3 486.8h0M262.8 487.3h0M304.8 487.9h0M313.0 485.3h0M245.7 485.9h0M300.8 492.9h0M270.6 482.7h0M307.1 490.9h0M244.7 490.4h0M291.2 483.1h0M298.5 490.7h0M284.2 488.6h0M205.5 489.7h0M287.5 486.7h0M299.4 486.0h0M227.6 495.2h0M293.2 485.9h0M304.1 485.5h0M199.3 494.4h0M311.3 488.3h0M304.3 492.3h0M264.4 488.6h0M271.1 485.7h0M313.4 483.1h0M308.6 492.0h0M289.9 488.6h0M310.7 490.4h0M296.2 486.1h0M314.2 481.0h0M304.4 485.3h0M266.7 487.1h0M309.2 489.5h0M262.0 489.3h0M291.2 489.1h0M251.8 484.4h0M314.8 488.9h0M242.0 481.2h0M308.0 490.0h0M222.2 486.7h0M311.4 488.2h0M315.8 484.3h0M282.4 486.7h0"/><path stroke="#00f4fb" d="M107.3 503.2h0M295.3 503.5h0M279.7 502.2h0"/><path stroke="#fff400" d="M131.8 449.3h0M186.6 448.9h0M313.0 435.8h0M276.3 456.8h0M291.4 456.8h0M195.9 462.9h0M303.9 441.1h0M254.7 437.5h0M304.9 450.9h0M273.9 439.6h0M261.6 438.3h0M294.3 448.2h0M315.1 454.8h0M272.2 444.4h0M307.8 440.8h0M309.5 446.3h0M250.2 440.6h0M215.2 455.1h0M317.3 444.7h0M316.0 447.0h0M249.2 448.0h0M275.1 454.1h0M320.1 448.1h0M318.8 437.9h0M306.5 453.4h0M300.2 448.0h0M273.3 435.1h0M282.0 439.7h0M224.8 451.4h0M316.2 462.0h0M316.6 433.3h0M304.4 446.5h0M287.3 438.6h0M292.7 454.5h0M313.5 444.7h0M312.7 441.0h0M310.0 457.5h0M316.0 442.4h0M309.4 437.1h0M291.2 454.6h0M196.4 439.1h0M308.1 447.2h0M319.8 450.9h0M318.8 434.0h0M295.4 445.1h0M281.9 448.5h0M305.3 447.4h0M302.9 446.8h0M259.5 446.2h0M309.8 442.1h0M295.0 436.9h0M304.1 441.6h0M313.2 441.6h0M317.6 446.7h0M305.9 436.7h0M282.2 442.9h0M238.4 448.2h0M275.9 441.1h0M290.4 443.5h0M283.5 459.1h0M319.3 445.2h0M303.6 449.6h0M317.2 442.3h0M297.9 442.3h0M244.7 453.6h0M213.6 449.5h0"/><path stroke="#ffd500" d="M135.2 449.8h0M258.9 440.4h0M319.5 444.2h0M316.2 437.7h0M275.4 439.1h0M239.9 445.5h0M283.3 439.5h0M311.7 424.7h0M285.4 447.5h0M311.7 453.7h0M246.2 445.5h0M318.7 435.5h0M301.2 448.5h0M304.8 442.9h0M270.4 439.8h0M298.8 452.9h0M250.3 434.2h0M258.0 437.9h0M272.9 437.5h0M287.5 444.1h0M316.8 441.1h0M311.1 451.4h0M305.1 434.0h0M312.9 435.0h0M306.5 433.0h0M305.5 433.2h0M262.3 442.6h0M294.3 439.4h0M276.4 432.7h0M319.1 435.1h0M271.7 432.0h0M273.8 445.2h0M281.9 444.0h0M257.6 447.5h0M268.1 437.5h0M282.1 445.4h0M267.5 441.2h0M308.3 435.8h0M296.3 436.1h0M317.2 440.7h0M281.4 435.7h0M301.5 435.0h0M267.1 450.8h0M317.7 450.0h0M285.3 447.0h0M267.4 429.5h0M289.5 446.4h0M298.6 428.5h0M311.6 429.8h0M305.2 448.0h0M297.5 446.4h0M316.0 436.8h0M285.9 433.7h0M312.2 435.3h0M311.4 437.7h0M251.4 422.3h0M304.2 445.7h0M301.5 445.2h0M274.8 431.2h0M313.0 441.5h0M296.5 440.7h0M302.0 435.5h0M270.3 443.0h0M311.0 440.7h0M304.2 441.1h0M220.2 452.6h0M290.8 432.1h0M245.1 439.4h0M313.3 434.6h0M257.3 443.2h0M200.9 448.8h0M272.8 447.5h0M300.1 433.0h0M284.2 441.0h0M283.9 437.3h0M312.6 443.4h0M270.3 442.4h0"/><path stroke="#00f40e" d="M140.5 487.6h0M188.8 499.8h0M267.0 493.3h0M279.7 493.7h0M289.7 490.0h0M317.3 486.7h0M252.2 488.5h0M298.0 492.1h0M305.1 497.7h0M268.4 491.1h0M295.6 493.7h0M296.9 491.5h0M301.5 492.4h0M314.0 494.8h0M293.5 491.3h0M277.8 492.2h0M298.7 492.1h0M228.0 491.3h0M272.0 489.5h0M298.4 486.0h0M286.7 488.2h0M277.0 491.9h0M286.3 486.3h0M271.4 487.9h0M318.0 483.0h0M313.0 487.6h0M306.4 483.1h0M236.6 493.6h0M262.7 489.6h0M298.5 487.2h0M302.9 491.3h0M288.7 486.9h0M214.1 495.5h0M313.7 487.1h0M315.1 488.9h0M297.0 491.5h0M296.9 491.7h0M256.8 486.6h0M287.7 488.4h0M300.2 485.9h0M301.7 490.6h0M201.5 494.0h0M314.3 493.3h0M291.8 488.8h0M309.4 488.7h0M235.1 486.2h0M314.9 484.8h0M295.7 488.3h0M284.7 493.7h0"/><path stroke="#00f74e" d="M156.7 501.8h0M281.2 497.0h0M204.7 492.7h0M311.4 496.4h0M276.1 490.5h0M259.0 492.5h0M306.6 495.6h0M216.6 493.2h0M319.5 500.8h0M301.5 494.5h0M252.3 491.2h0M265.3 495.5h0M207.1 494.2h0M286.0 494.4h0M266.0 494.2h0M294.2 495.3h0M222.2 500.1h0"/><path stroke="#00f41c" d="M160.5 489.0h0M193.4 495.0h0M309.2 490.4h0M299.6 494.8h0M269.9 492.2h0M309.6 499.0h0M308.8 488.9h0M319.7 489.4h0M234.9 495.1h0M320.0 487.4h0M286.3 483.4h0M291.8 488.4h0M276.9 492.5h0M316.5 490.2h0M295.2 493.3h0M274.0 497.1h0M248.3 488.5h0M259.6 493.6h0M312.5 496.8h0M236.9 489.6h0M301.4 486.0h0M312.9 490.6h0M319.4 501.6h0M293.4 487.0h0M299.3 496.5h0M305.7 488.4h0M279.1 497.2h0M295.5 490.4h0M268.6 496.3h0M268.8 488.9h0M283.2 499.6h0M306.0 486.9h0M296.7 492.0h0M238.8 492.6h0M281.6 488.4h0M290.8 496.9h0M306.5 499.2h0M273.5 491.9h0M279.9 494.5h0M281.3 493.6h0M298.5 495.1h0M293.8 488.9h0M221.9 492.2h0M310.1 487.6h0M296.5 492.5h0"/><path stroke="#1ff300" d="M193.0 481.8h0M316.1 489.5h0M292.0 477.2h0M201.0 479.0h0M250.8 480.4h0M280.5 487.4h0M296.9 484.9h0M248.6 484.3h0M265.6 482.6h0M318.2 483.1h0M210.5 487.7h0M307.6 482.1h0M279.2 490.3h0M305.2 485.4h0M262.0 483.1h0M290.9 478.2h0M271.3 484.1h0M277.9 482.7h0M261.7 481.8h0M273.0 484.5h0M286.9 485.2h0M274.4 481.3h0M289.0 485.2h0M265.6 487.2h0M299.4 486.5h0M307.8 485.3h0M310.5 489.9h0M277.8 482.2h0M205.4 485.9h0M285.3 478.6h0M316.3 484.2h0M274.9 485.5h0M311.1 488.8h0M269.2 482.7h0M318.2 487.1h0M225.2 471.6h0M213.2 481.2h0M309.0 482.0h0M282.4 487.1h0M316.2 482.2h0M265.0 476.9h0M313.9 489.6h0M269.8 476.5h0M284.2 482.3h0"/><path stroke="#3ff400" d="M244.2 479.4h0M293.2 486.7h0M316.6 478.3h0M193.9 477.2h0M286.9 482.6h0M319.8 482.7h0M307.6 476.3h0M265.8 480.8h0M306.6 475.4h0M281.0 477.9h0M312.4 482.5h0M319.0 480.3h0M259.1 485.9h0M306.1 475.9h0M301.5 470.5h0M308.0 485.3h0M305.9 488.3h0M318.0 487.5h0M319.4 473.9h0M317.1 476.6h0M305.9 479.7h0M314.7 483.3h0M241.3 479.7h0M242.9 476.5h0M305.9 479.6h0M319.1 484.1h0M210.6 487.9h0M231.2 478.2h0M201.5 478.6h0M316.3 479.7h0M217.0 479.5h0M242.9 476.8h0M317.3 483.3h0M295.0 476.9h0M319.7 488.0h0M299.4 478.9h0M240.9 479.0h0M306.8 473.8h0M271.8 476.8h0M292.4 474.1h0M297.3 482.7h0M311.6 482.2h0M299.9 470.6h0M285.7 483.4h0M289.1 479.2h0M301.4 475.2h0M270.2 483.5h0M216.7 480.7h0M315.1 476.3h0M286.1 488.6h0M310.9 480.7h0M290.8 480.6h0M317.3 479.4h0M270.3 474.3h0"/><path stroke="#d2f900" d="M312.9 456.7h0M224.5 472.5h0M292.0 457.7h0M301.6 466.3h0M278.9 457.9h0M318.1 467.0h0M291.7 467.5h0M298.6 455.1h0M301.0 460.3h0M256.7 471.6h0M304.3 463.1h0M284.2 455.8h0M305.7 466.2h0M313.9 461.7h0M235.7 461.3h0M275.3 453.2h0M293.8 459.9h0M260.3 448.8h0M248.2 446.3h0M299.7 464.3h0M311.0 462.7h0M313.6 463.4h0M317.1 464.3h0M313.5 455.8h0M262.3 471.9h0M299.8 455.2h0M296.8 463.7h0M296.1 452.8h0M272.2 464.2h0M309.4 458.0h0M280.7 457.8h0M224.7 467.6h0M220.6 466.3h0M307.9 456.7h0M210.2 460.2h0M311.0 457.5h0M304.8 460.1h0M276.8 464.2h0M317.4 456.9h0M314.3 458.9h0M308.7 452.7h0M277.7 465.4h0M314.0 463.6h0M319.0 469.9h0M305.0 460.2h0M262.6 461.2h0"/><path stroke="#00f872" d="M238.6 498.5h0M277.4 494.1h0M244.4 497.7h0M289.1 496.0h0M301.5 494.7h0M286.8 503.3h0M318.2 496.5h0M311.5 496.7h0M273.1 494.9h0M309.1 489.5h0M223.0 495.0h0M280.0 493.2h0M264.9 496.3h0M222.6 499.3h0M308.6 502.4h0"/><path stroke="#91f700" d="M272.8 477.3h0M299.1 465.8h0M312.4 466.2h0M248.5 470.9h0M306.1 475.1h0M277.1 470.1h0M307.3 463.6h0M255.7 466.3h0M300.7 466.4h0M307.3 467.5h0M264.8 468.6h0M307.9 466.2h0M312.6 473.8h0M286.2 470.0h0M303.2 468.6h0M287.7 472.3h0M246.2 470.5h0M207.8 469.0h0M297.5 467.7h0M252.4 474.9h0M313.9 467.6h0M264.4 478.4h0M315.1 468.1h0M282.2 472.9h0M298.6 470.1h0M309.9 473.6h0M274.9 472.7h0M237.2 463.6h0M300.6 466.4h0M316.3 473.2h0M300.8 470.7h0M290.1 471.0h0M318.8 470.3h0M292.1 475.7h0M291.4 465.9h0M318.0 476.1h0M283.6 468.1h0M209.1 468.1h0M235.3 475.9h0M308.7 470.3h0M249.0 476.8h0M253.5 467.0h0M259.1 479.9h0M225.6 468.0h0M295.2 471.7h0M249.8 472.8h0M314.2 472.7h0M289.7 464.5h0M319.7 462.5h0M312.3 480.8h0M227.8 465.1h0M314.8 468.9h0M317.5 474.3h0M298.7 472.5h0M281.7 474.7h0M290.5 465.5h0M260.2 468.8h0M305.3 471.0h0M311.8 472.2h0M299.8 464.5h0M250.9 468.0h0M284.4 471.5h0M262.2 471.8h0M242.0 475.9h0M287.7 474.0h0M312.6 474.1h0M276.0 466.8h0M315.7 462.6h0M300.1 472.2h0M289.5 470.1h0"/><path stroke="#65f500" d="M295.3 466.2h0M300.8 479.4h0M306.4 480.0h0M297.4 478.0h0M319.3 476.4h0M319.3 472.0h0M318.2 477.6h0M286.0 476.2h0M314.7 475.4h0M253.5 478.4h0M292.4 475.8h0M256.6 476.6h0M310.2 474.1h0M317.5 472.9h0M314.1 481.2h0M252.7 476.6h0M290.1 479.9h0M300.5 473.2h0M297.1 469.8h0M220.9 475.8h0M288.9 466.3h0M292.4 481.5h0M299.8 479.3h0M284.0 474.9h0M310.6 469.6h0M315.6 471.4h0M267.4 473.1h0M318.3 472.1h0M298.6 479.1h0M264.6 475.0h0M268.5 477.2h0M268.8 470.1h0M313.3 470.6h0M240.2 478.0h0M239.8 477.6h0M310.1 476.2h0M273.1 472.3h0M262.0 477.6h0M269.5 475.6h0M280.8 474.6h0M319.6 469.8h0M312.9 480.4h0M305.8 479.4h0M311.5 483.9h0M309.2 476.6h0M215.1 476.9h0M218.7 478.5h0M302.5 477.0h0M239.4 477.9h0M300.0 479.0h0M311.3 471.4h0M295.5 477.0h0M288.7 476.0h0M300.2 476.3h0M305.0 466.9h0M257.8 474.7h0M295.9 474.4h0M311.5 473.1h0M300.1 481.2h0M256.9 474.8h0M269.9 478.9h0M311.2 467.2h0M295.1 476.7h0"/><path stroke="#fc1700" d="M294.3 385.7h0M219.5 368.9h0M289.8 399.2h0M234.6 388.1h0M247.4 393.7h0M316.5 378.0h0M276.3 385.9h0M314.9 383.4h0M264.7 379.5h0M316.4 386.8h0M318.2 389.3h0M292.1 392.0h0M311.1 393.5h0M306.5 382.3h0M294.4 385.4h0M318.0 383.8h0M228.4 371.5h0M317.2 393.4h0M244.2 379.4h0M307.3 381.3h0M318.2 386.5h0M300.5 392.0h0M316.6 391.6h0M267.1 389.8h0M206.1 376.1h0M208.3 386.7h0M299.5 398.7h0M255.7 392.1h0M261.7 396.4h0M279.6 387.9h0M299.5 386.1h0M310.1 383.1h0M253.4 388.2h0M309.6 380.6h0M294.9 394.2h0M238.5 386.5h0M292.3 386.1h0M316.2 371.5h0M317.4 388.5h0M315.8 375.1h0M310.9 386.7h0M305.1 386.9h0M302.2 392.3h0M308.1 376.7h0M294.5 380.7h0M282.4 388.4h0M264.9 380.5h0M312.8 385.0h0M209.5 392.0h0M318.5 391.9h0M316.2 384.1h0M291.3 380.5h0M291.4 387.4h0M287.9 378.0h0M268.3 383.4h0M298.8 387.5h0M300.3 388.3h0M308.0 394.8h0M302.0 390.2h0M283.1 370.0h0M316.5 377.2h0M313.5 377.5h0M238.8 378.4h0M320.2 388.5h0M319.0 381.3h0M310.2 385.7h0M217.2 388.7h0M285.9 390.9h0M297.6 396.9h0M300.9 384.5h0M296.8 389.4h0M260.6 385.4h0M286.3 387.3h0M313.3 391.4h0M278.7 379.7h0M304.5 383.6h0M320.1 396.3h0M290.1 371.8h0M303.8 391.8h0M255.7 384.6h0M315.5 379.7h0M288.2 384.7h0M305.3 388.4h0M314.5 386.2h0M318.8 380.9h0M300.8 392.9h0M293.1 386.1h0M276.0 390.5h0M251.3 392.4h0M300.1 330.6h0"/><path stroke="#00fa96" d="M302.7 496.0h0M284.4 499.2h0M261.0 499.5h0M298.6 500.2h0M309.8 506.0h0M246.5 503.5h0M266.0 499.3h0M307.9 503.8h0M309.9 497.1h0M316.1 500.0h0M310.5 503.3h0M308.3 503.9h0M301.2 494.0h0M195.6 499.9h0M316.3 499.9h0M308.9 498.3h0M262.9 497.4h0M276.6 502.5h0M307.5 498.4h0"/><path stroke="#00f52a" d="M261.8 494.1h0M301.1 489.2h0M285.3 493.9h0M320.2 490.0h0M289.7 490.5h0M245.3 494.0h0M296.8 500.4h0M250.5 495.7h0M318.1 492.3h0M308.4 498.3h0M301.8 490.1h0M231.7 502.1h0M270.6 494.3h0M305.6 493.6h0M256.3 494.8h0M210.3 505.6h0M254.5 496.3h0M293.2 492.7h0M316.8 499.6h0M292.4 493.1h0M219.9 501.4h0M295.8 493.6h0M213.9 491.1h0M243.8 494.6h0M246.1 494.8h0M275.4 495.7h0M204.4 496.6h0"/><path stroke="#00d7ff" d="M256.7 506.7h0M297.3 492.9h0M226.5 507.5h0M250.8 507.3h0"/><path stroke="#d00000" d="M297.6 314.0h0M263.0 332.8h0M302.7 332.0h0M282.5 329.9h0M260.8 322.0h0M282.9 335.7h0M238.0 332.8h0M299.2 322.7h0M245.0 335.2h0M317.2 318.6h0M308.4 326.9h0M262.8 330.6h0M302.1 320.5h0M255.6 325.1h0M276.7 331.4h0M288.1 325.2h0"/><path stroke="#bf0000" d="M302.8 317.6h0M301.5 326.9h0M302.9 305.1h0M204.4 313.2h0M316.6 310.1h0"/><path stroke="#00face" d="M320.0 504.2h0M319.9 508.2h0M306.2 494.9h0M284.0 500.7h0M283.1 498.2h0M298.0 502.1h0M277.9 504.1h0M217.8 494.8h0M256.4 496.5h0M296.7 500.4h0M316.6 502.0h0"/></g></g>
</g>
<g>
<clipPath id="c4"><rect x="416.60" y="289.45" width="288.70" height="246.45"/></clipPath>
<path d="M464.72 289.45V535.90M512.83 289.45V535.90M560.95 289.45V535.90M609.07 289.45V535.90M657.18 289.45V535.90M416.60 453.75H705.30M416.60 371.60H705.30" stroke="#efefef" stroke-width="0.7" stroke-dasharray="1.2 0.5" fill="none"/><rect x="416.60" y="289.45" width="288.70" height="246.45" fill="none" stroke="#a0a0a0" stroke-width="1.15"/><path d="M416.60 535.90v-1.90M416.60 289.45v1.90M464.72 535.90v-1.90M464.72 289.45v1.90M512.83 535.90v-1.90M512.83 289.45v1.90M560.95 535.90v-1.90M560.95 289.45v1.90M609.07 535.90v-1.90M609.07 289.45v1.90M657.18 535.90v-1.90M657.18 289.45v1.90M705.30 535.90v-1.90M705.30 289.45v1.90M416.60 535.90h1.90M705.30 535.90h-1.90M416.60 511.17h1.15M705.30 511.17h-1.15M416.60 496.70h1.15M705.30 496.70h-1.15M416.60 486.44h1.15M705.30 486.44h-1.15M416.60 478.48h1.15M705.30 478.48h-1.15M416.60 471.97h1.15M705.30 471.97h-1.15M416.60 466.48h1.15M705.30 466.48h-1.15M416.60 461.71h1.15M705.30 461.71h-1.15M416.60 457.51h1.15M705.30 457.51h-1.15M416.60 453.75h1.90M705.30 453.75h-1.90M416.60 429.02h1.15M705.30 429.02h-1.15M416.60 414.55h1.15M705.30 414.55h-1.15M416.60 404.29h1.15M705.30 404.29h-1.15M416.60 396.33h1.15M705.30 396.33h-1.15M416.60 389.82h1.15M705.30 389.82h-1.15M416.60 384.33h1.15M705.30 384.33h-1.15M416.60 379.56h1.15M705.30 379.56h-1.15M416.60 375.36h1.15M705.30 375.36h-1.15M416.60 371.60h1.90M705.30 371.60h-1.90M416.60 346.87h1.15M705.30 346.87h-1.15M416.60 332.40h1.15M705.30 332.40h-1.15M416.60 322.14h1.15M705.30 322.14h-1.15M416.60 314.18h1.15M705.30 314.18h-1.15M416.60 307.67h1.15M705.30 307.67h-1.15M416.60 302.18h1.15M705.30 302.18h-1.15M416.60 297.41h1.15M705.30 297.41h-1.15M416.60 293.21h1.15M705.30 293.21h-1.15M416.60 289.45h1.90M705.30 289.45h-1.90" stroke="#444" stroke-width="0.55" fill="none"/><text x="416.60" y="545.50" text-anchor="middle">6</text><text x="464.72" y="545.50" text-anchor="middle">7</text><text x="512.83" y="545.50" text-anchor="middle">8</text><text x="560.95" y="545.50" text-anchor="middle">9</text><text x="609.07" y="545.50" text-anchor="middle">10</text><text x="657.18" y="545.50" text-anchor="middle">11</text><text x="705.30" y="545.50" text-anchor="middle">12</text><text x="412.80" y="538.90" text-anchor="end">0.1</text><text x="412.80" y="456.75" text-anchor="end">1</text><text x="412.80" y="374.60" text-anchor="end">10</text><text x="412.80" y="292.45" text-anchor="end">100</text><text x="560.95" y="553.70" text-anchor="middle">TESS magnitude</text><text transform="translate(395.70 412.67) rotate(-90)" text-anchor="middle">RV semiamplitude [m/s]</text><rect x="712.30" y="289.50" width="14.70" height="246.45" fill="url(#jet)" stroke="#777" stroke-width="0.25"/><text x="729.80" y="538.65">2500</text><text x="729.80" y="507.84">3000</text><text x="729.80" y="477.04">3500</text><text x="729.80" y="446.23">4000</text><text x="729.80" y="415.43">4500</text><text x="729.80" y="384.62">5000</text><text x="729.80" y="353.81">5500</text><text x="729.80" y="323.01">6000</text><text x="729.80" y="292.20">6500</text><path d="M727.00 535.95h-1.6M712.30 535.95h1.6M727.00 505.14h-1.6M712.30 505.14h1.6M727.00 474.34h-1.6M712.30 474.34h1.6M727.00 443.53h-1.6M712.30 443.53h1.6M727.00 412.73h-1.6M712.30 412.73h1.6M727.00 381.92h-1.6M712.30 381.92h1.6M727.00 351.11h-1.6M712.30 351.11h1.6M727.00 320.31h-1.6M712.30 320.31h1.6M727.00 289.50h-1.6M712.30 289.50h1.6" stroke="#444" stroke-width="0.5" fill="none"/><text transform="translate(758.20 412.67) rotate(-90)" text-anchor="middle">Effective Temperature [K]</text>
<g clip-path="url(#c4)"><g fill="none" stroke-width="2.75" stroke-linecap="round"><path stroke="#ea0000" d="M463.2 355.3h0M535.4 358.7h0M561.9 387.2h0M561.9 394.2h0M575.9 390.4h0M582.1 332.4h0M583.6 334.9h0M667.7 365.5h0M632.5 370.9h0M660.3 366.3h0M635.7 379.8h0M653.0 372.5h0M652.0 352.3h0M670.6 354.5h0M658.0 367.8h0M604.9 358.1h0M654.0 361.8h0M650.4 366.8h0M667.1 369.1h0M671.5 351.6h0M667.4 370.4h0M634.1 364.9h0M624.7 367.2h0M656.5 365.5h0M615.1 364.3h0M620.7 370.2h0M653.3 369.6h0M611.5 354.4h0M670.5 368.4h0M625.0 353.9h0M657.4 377.9h0"/><path stroke="#ff3000" d="M451.3 408.6h0M480.1 390.2h0M556.9 418.6h0M558.1 405.5h0M566.8 416.8h0M578.3 416.6h0M616.4 408.0h0M587.6 407.0h0M589.6 394.0h0M646.5 393.0h0M628.3 397.0h0M659.4 392.3h0M649.6 394.5h0M640.8 397.9h0M632.7 401.0h0M650.1 392.5h0M644.9 397.1h0M614.7 399.7h0M649.0 396.8h0M649.0 404.2h0M660.7 392.2h0M653.5 399.1h0M634.5 403.3h0M652.7 411.1h0M657.4 398.9h0M650.2 401.3h0M628.3 388.8h0M642.9 392.8h0M645.6 398.4h0M627.9 404.1h0M606.2 407.2h0M619.8 402.4h0"/><path stroke="#ff5200" d="M457.3 423.1h0M523.3 419.7h0M519.4 419.7h0M520.8 427.4h0M529.5 433.7h0M577.2 422.4h0M577.2 427.4h0M577.2 424.2h0M581.1 406.1h0M638.8 420.6h0M650.2 417.1h0M643.7 403.5h0M635.7 409.0h0M643.4 416.3h0M622.1 407.5h0M655.4 404.9h0M634.9 416.4h0M650.7 407.5h0M593.9 397.6h0M656.9 416.5h0M647.4 407.9h0M627.6 412.2h0M645.9 405.4h0M586.4 410.0h0M652.6 402.8h0M634.3 409.0h0M629.1 403.4h0"/><path stroke="#ffb600" d="M470.5 407.1h0M518.3 437.5h0M571.0 442.7h0M640.0 431.4h0M640.0 436.1h0M639.3 439.3h0M639.8 433.9h0M646.4 430.8h0M635.5 431.0h0M636.1 439.7h0M626.7 435.7h0M643.8 436.6h0M603.6 425.8h0M634.7 445.8h0M605.7 426.9h0M641.4 437.6h0M626.8 430.8h0M630.3 432.7h0M643.3 433.9h0M613.4 433.1h0M632.8 433.5h0M641.6 439.6h0M623.1 438.7h0M642.5 438.6h0M642.5 425.0h0M596.4 443.0h0M638.7 434.6h0M644.8 441.5h0M643.8 434.8h0"/><path stroke="#ff7300" d="M513.4 403.9h0M541.1 429.4h0M632.7 426.8h0M649.1 421.0h0M641.7 424.7h0M605.0 412.4h0M641.1 422.7h0M628.8 422.0h0M620.3 414.5h0M644.2 419.0h0M621.9 423.7h0M603.2 421.4h0M620.7 405.9h0M642.7 414.0h0M643.3 417.3h0M642.0 421.3h0M658.5 417.2h0M601.0 418.0h0M581.9 418.2h0M626.9 425.6h0M608.2 416.0h0M631.5 428.2h0M581.8 416.7h0M644.6 416.7h0M636.7 428.4h0M642.5 419.0h0"/><path stroke="#f60400" d="M528.3 387.2h0M630.5 366.8h0M652.0 388.0h0M657.4 367.9h0M618.9 376.0h0M648.5 362.1h0M646.5 374.8h0M642.1 372.3h0M658.9 384.5h0M634.7 385.1h0M618.9 376.5h0M626.6 380.0h0M656.1 393.9h0M622.1 374.5h0M649.8 380.3h0M609.0 386.3h0"/><path stroke="#ff9400" d="M545.0 428.0h0M592.9 436.2h0M639.0 417.8h0M634.3 429.0h0M626.5 430.4h0M645.0 432.9h0M654.3 418.9h0M652.8 432.2h0M635.7 433.7h0M630.6 426.9h0M627.9 429.0h0M644.7 420.7h0M634.1 429.0h0M636.4 430.0h0M630.4 426.4h0M616.3 424.0h0M623.0 429.9h0M639.8 429.6h0"/><path stroke="#dd0000" d="M564.2 342.3h0M662.6 355.1h0M662.3 347.8h0M668.7 337.4h0M669.7 340.6h0M591.7 338.3h0M640.7 351.6h0M646.6 332.5h0M649.5 340.1h0M639.8 338.7h0M654.8 345.9h0M614.4 343.2h0M620.8 356.7h0M643.0 343.2h0M664.6 357.6h0M597.2 347.4h0M637.4 343.0h0M612.6 338.9h0M586.7 343.0h0M681.2 329.0h0"/><path stroke="#ebf900" d="M462.7 468.8h0M528.3 460.9h0M544.1 461.8h0M571.5 456.4h0M620.1 451.5h0M631.6 454.8h0M615.2 463.2h0M610.1 450.8h0"/><path stroke="#b9f800" d="M482.0 467.3h0M563.5 469.7h0M636.1 473.2h0M587.0 464.4h0M641.8 473.6h0M622.8 467.7h0M600.6 469.1h0M591.3 470.5h0M649.1 468.8h0M597.8 460.5h0"/><path stroke="#00f300" d="M484.7 495.9h0M511.9 491.6h0M537.5 495.9h0M547.5 492.3h0M563.5 495.9h0M609.5 495.4h0M634.3 491.0h0M630.7 490.1h0M629.6 494.6h0M612.6 499.4h0M584.3 498.6h0M636.8 488.6h0M627.0 485.4h0M607.2 490.9h0"/><path stroke="#00f4fb" d="M492.2 507.4h0"/><path stroke="#fff400" d="M516.7 453.5h0M571.5 453.1h0M580.9 467.1h0M639.7 441.7h0M646.6 442.5h0M635.1 444.8h0M600.2 459.3h0M634.2 452.2h0M609.7 455.6h0M581.3 443.3h0M644.4 450.4h0M623.4 452.4h0M629.7 457.8h0M598.6 453.7h0"/><path stroke="#ffd500" d="M520.1 454.0h0M643.8 444.6h0M624.9 449.7h0M631.2 449.7h0M635.3 438.4h0M643.0 442.1h0M647.3 446.8h0M642.6 451.7h0M653.0 441.8h0M636.3 426.5h0M605.2 456.8h0M630.1 443.7h0M642.2 447.4h0M585.9 453.0h0"/><path stroke="#00f40e" d="M525.4 491.8h0M573.8 504.0h0M637.2 492.7h0M613.0 495.4h0M621.5 497.8h0M599.0 499.7h0M641.7 490.8h0M586.4 498.2h0M620.1 490.4h0M669.7 497.9h0"/><path stroke="#00f74e" d="M541.6 506.0h0M589.6 496.9h0M601.6 497.4h0M637.2 495.4h0M592.0 498.3h0M607.2 504.3h0"/><path stroke="#00f41c" d="M545.5 493.2h0M578.3 499.2h0M619.9 499.3h0M633.3 492.7h0M623.8 496.8h0M606.9 496.4h0"/><path stroke="#1ff300" d="M577.9 486.0h0M585.9 483.2h0M635.8 484.6h0M633.5 488.4h0M595.4 491.8h0M590.3 490.1h0M610.2 475.8h0M598.2 485.4h0M654.8 480.7h0M669.2 486.4h0"/><path stroke="#3ff400" d="M629.1 483.5h0M578.8 481.4h0M626.3 483.9h0M616.1 482.3h0M586.5 482.8h0M602.0 483.7h0M627.9 481.0h0M625.9 483.2h0M601.7 484.8h0M655.3 478.5h0"/><path stroke="#00f872" d="M623.6 502.7h0M629.4 501.9h0M607.6 503.5h0"/><path stroke="#d2f900" d="M609.5 476.7h0M641.7 475.7h0M620.7 465.5h0M633.2 450.5h0M647.3 476.1h0M609.6 471.7h0M605.6 470.5h0M595.2 464.4h0"/><path stroke="#fc1700" d="M604.4 373.1h0M619.6 392.4h0M632.4 398.0h0M649.7 383.7h0M613.4 375.8h0M629.2 383.7h0M652.1 394.1h0M591.1 380.3h0M593.2 390.9h0M640.7 396.3h0M646.7 400.6h0M638.4 392.4h0M623.5 390.7h0M649.9 384.8h0M594.5 396.2h0M653.3 387.7h0M623.8 382.7h0M602.2 392.9h0M645.6 389.7h0M671.3 391.6h0M663.7 384.0h0M640.7 388.8h0M636.2 396.6h0M685.1 334.9h0"/><path stroke="#91f700" d="M633.4 475.1h0M640.7 470.5h0M631.1 474.7h0M592.7 473.2h0M637.4 479.1h0M622.2 467.8h0M594.0 472.3h0M620.3 480.1h0M634.0 481.0h0M644.1 484.1h0M610.5 472.2h0M634.8 477.0h0M612.8 469.3h0M627.0 480.1h0"/><path stroke="#d00000" d="M648.0 337.1h0M667.4 334.2h0M645.8 326.3h0M667.9 339.9h0M622.9 337.0h0M630.0 339.5h0M647.7 334.8h0M640.6 329.4h0M661.7 335.7h0M673.0 329.5h0"/><path stroke="#65f500" d="M638.5 482.6h0M637.7 480.8h0M625.2 482.2h0M624.7 481.8h0M603.6 482.7h0M624.4 482.1h0M641.8 479.0h0"/><path stroke="#00f52a" d="M630.3 498.1h0M635.4 499.9h0M616.7 506.3h0M595.2 509.8h0M639.5 500.5h0M604.8 505.5h0M598.9 495.3h0M628.7 498.7h0M631.1 499.0h0M589.3 500.8h0"/><path stroke="#00fa96" d="M631.5 507.7h0M580.6 504.1h0"/><path stroke="#00d7ff" d="M611.5 511.6h0"/><path stroke="#00face" d="M602.8 499.0h0M641.4 500.6h0"/><path stroke="#bf0000" d="M589.3 317.4h0"/></g></g>
</g>
<text x="79.5" y="27.2" style="font-size:7.2px">Rp = 2 Rearth</text>
<text x="459.5" y="31.2" style="font-size:7.2px">Rp = 1 Rearth</text>
</g></svg></body></html>
